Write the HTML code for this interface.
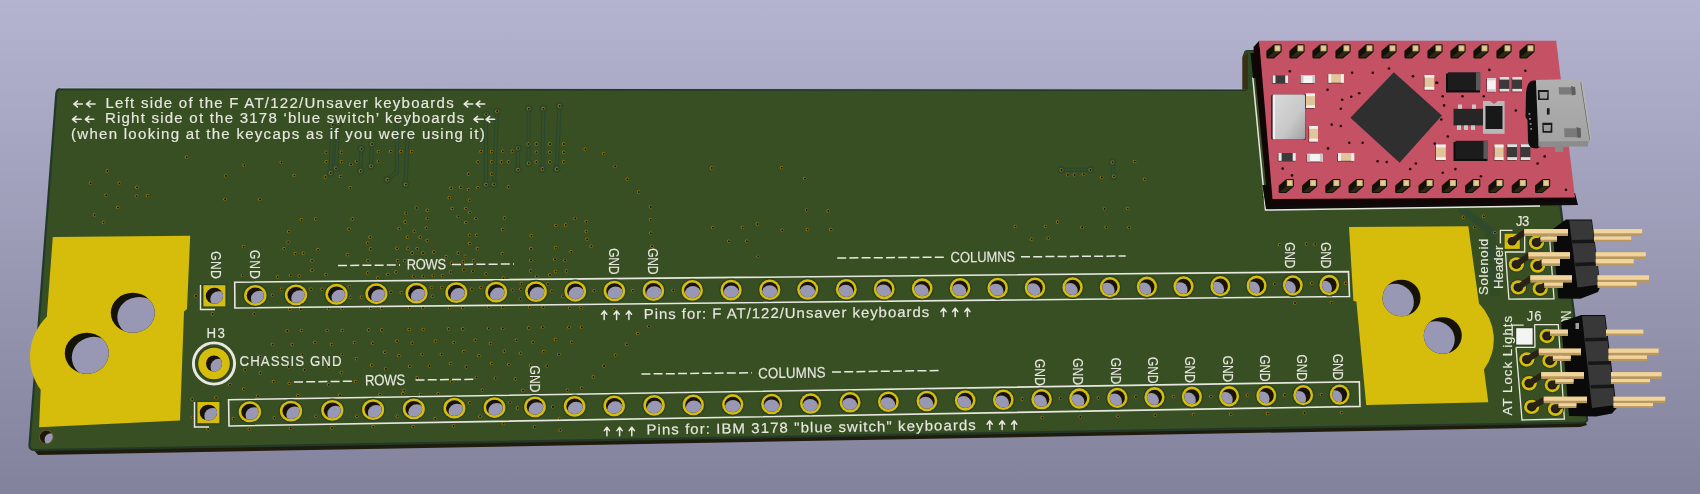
<!DOCTYPE html><html><head><meta charset="utf-8"><style>
html,body{margin:0;padding:0;width:1700px;height:494px;overflow:hidden;background:#9a9ab6}
svg{display:block;will-change:transform}
text{font-family:"Liberation Sans",sans-serif;fill:#e8e8e0;stroke:#e8e8e0;stroke-width:0.15px}
</style></head><body>
<svg width="1700" height="494" viewBox="0 0 1700 494">
<defs>
<linearGradient id="bg" x1="0" y1="0" x2="0" y2="1">
<stop offset="0" stop-color="#b4b4d0"/><stop offset="1" stop-color="#82829c"/>
</linearGradient>
<linearGradient id="usb" x1="0" y1="0" x2="0" y2="1">
<stop offset="0" stop-color="#b0b0b0"/><stop offset="1" stop-color="#a2a2a2"/>
</linearGradient>
<linearGradient id="xtal" x1="0" y1="0" x2="1" y2="1">
<stop offset="0" stop-color="#dadada"/><stop offset="0.6" stop-color="#c8c8c8"/><stop offset="1" stop-color="#a0a0a0"/>
</linearGradient>
</defs>
<rect width="1700" height="494" fill="url(#bg)"/>

<path d="M33,449 L1585,421 L1587,425 L1580,427 L38,455 Z" fill="#1f1c0c"/>
<path d="M61,89 L1245,90 L1245,53 Q1245,51 1248,51 L1541,50 L1560,202 L1587,418 Q1588,422 1583,422.5 L35,450 Q29,450 29.5,445 L56.3,93.5 Q56.8,89 61,89 Z" fill="#384f23" stroke="#22392a" stroke-width="2.2"/>
<path d="M60,88 L1245,89" stroke="#bdbdd9" stroke-width="1" opacity="0.8"/>
<path d="M52.8,237 L190.2,235.7 L187,309 L184,311.5 L180,420.6 L39.1,427.2 L40.7,389.8 A56,56 0 0 1 46.8,316.8 Z" fill="#d6bd0c"/>
<path d="M1349,227 L1468.3,226.2 L1479,303.6 A51,51 0 0 1 1484,369.6 L1488.3,402.3 L1366.2,404.9 L1356.4,301.5 L1353.4,301 Z" fill="#d6bd0c"/>
<clipPath id="h1"><ellipse cx="132.80" cy="312.80" rx="22.00" ry="20.00"/></clipPath>
<ellipse cx="132.80" cy="312.80" rx="22.00" ry="20.00" fill="#15120a"/>
<ellipse cx="139.32" cy="316.93" rx="22.00" ry="20.00" fill="#9898b4" clip-path="url(#h1)"/>
<clipPath id="h2"><ellipse cx="86.80" cy="353.20" rx="22.00" ry="20.50"/></clipPath>
<ellipse cx="86.80" cy="353.20" rx="22.00" ry="20.50" fill="#15120a"/>
<ellipse cx="93.79" cy="357.32" rx="22.00" ry="20.50" fill="#9898b4" clip-path="url(#h2)"/>
<clipPath id="h3"><ellipse cx="1401.50" cy="298.00" rx="19.00" ry="18.30"/></clipPath>
<ellipse cx="1401.50" cy="298.00" rx="19.00" ry="18.30" fill="#15120a"/>
<ellipse cx="1394.88" cy="302.12" rx="19.00" ry="18.30" fill="#9898b4" clip-path="url(#h3)"/>
<clipPath id="h4"><ellipse cx="1442.80" cy="335.50" rx="19.00" ry="18.30"/></clipPath>
<ellipse cx="1442.80" cy="335.50" rx="19.00" ry="18.30" fill="#15120a"/>
<ellipse cx="1435.75" cy="339.62" rx="19.00" ry="18.30" fill="#9898b4" clip-path="url(#h4)"/>
<circle cx="46.3" cy="437" r="7.2" fill="#7a5a20"/>
<clipPath id="h5"><ellipse cx="46.30" cy="437.00" rx="6.50" ry="6.50"/></clipPath>
<ellipse cx="46.30" cy="437.00" rx="6.50" ry="6.50" fill="#1d170a"/>
<ellipse cx="51.04" cy="439.64" rx="6.50" ry="6.50" fill="#9898b4" clip-path="url(#h5)"/>
<path d="M332.5,124.8 L330.6,172.9" fill="none" stroke="#2a4630" stroke-width="4.2" stroke-linecap="round" stroke-linejoin="round"/>
<path d="M332.5,124.8 L330.6,172.9" fill="none" stroke="#384f23" stroke-width="2" stroke-linecap="round" stroke-linejoin="round"/>
<circle cx="332.5" cy="124.8" r="3.2" fill="#384f23" stroke="#2a4630" stroke-width="1.1"/><circle cx="332.5" cy="124.8" r="1.65" fill="#9a8018"/><circle cx="332.7" cy="124.89999999999999" r="1.05" fill="#17130a"/>
<circle cx="330.6" cy="172.9" r="3.2" fill="#384f23" stroke="#2a4630" stroke-width="1.1"/><circle cx="330.6" cy="172.9" r="1.65" fill="#9a8018"/><circle cx="330.8" cy="173.0" r="1.05" fill="#17130a"/>
<path d="M338.3,122.9 L335.8,168.1" fill="none" stroke="#2a4630" stroke-width="4.2" stroke-linecap="round" stroke-linejoin="round"/>
<path d="M338.3,122.9 L335.8,168.1" fill="none" stroke="#384f23" stroke-width="2" stroke-linecap="round" stroke-linejoin="round"/>
<circle cx="338.3" cy="122.9" r="3.2" fill="#384f23" stroke="#2a4630" stroke-width="1.1"/><circle cx="338.3" cy="122.9" r="1.65" fill="#9a8018"/><circle cx="338.5" cy="123.0" r="1.05" fill="#17130a"/>
<circle cx="335.8" cy="168.1" r="3.2" fill="#384f23" stroke="#2a4630" stroke-width="1.1"/><circle cx="335.8" cy="168.1" r="1.65" fill="#9a8018"/><circle cx="336.0" cy="168.2" r="1.05" fill="#17130a"/>
<path d="M361.3,148.8 L360.4,171" fill="none" stroke="#2a4630" stroke-width="4.2" stroke-linecap="round" stroke-linejoin="round"/>
<path d="M361.3,148.8 L360.4,171" fill="none" stroke="#384f23" stroke-width="2" stroke-linecap="round" stroke-linejoin="round"/>
<circle cx="361.3" cy="148.8" r="3.2" fill="#384f23" stroke="#2a4630" stroke-width="1.1"/><circle cx="361.3" cy="148.8" r="1.65" fill="#9a8018"/><circle cx="361.5" cy="148.9" r="1.05" fill="#17130a"/>
<circle cx="360.4" cy="171" r="3.2" fill="#384f23" stroke="#2a4630" stroke-width="1.1"/><circle cx="360.4" cy="171" r="1.65" fill="#9a8018"/><circle cx="360.59999999999997" cy="171.1" r="1.05" fill="#17130a"/>
<path d="M371.9,144 L371,166.2" fill="none" stroke="#2a4630" stroke-width="4.2" stroke-linecap="round" stroke-linejoin="round"/>
<path d="M371.9,144 L371,166.2" fill="none" stroke="#384f23" stroke-width="2" stroke-linecap="round" stroke-linejoin="round"/>
<circle cx="371.9" cy="144" r="3.2" fill="#384f23" stroke="#2a4630" stroke-width="1.1"/><circle cx="371.9" cy="144" r="1.65" fill="#9a8018"/><circle cx="372.09999999999997" cy="144.1" r="1.05" fill="#17130a"/>
<circle cx="371" cy="166.2" r="3.2" fill="#384f23" stroke="#2a4630" stroke-width="1.1"/><circle cx="371" cy="166.2" r="1.65" fill="#9a8018"/><circle cx="371.2" cy="166.29999999999998" r="1.05" fill="#17130a"/>
<path d="M396.9,120 L396.9,172 L387.3,179.6" fill="none" stroke="#2a4630" stroke-width="4.2" stroke-linecap="round" stroke-linejoin="round"/>
<path d="M396.9,120 L396.9,172 L387.3,179.6" fill="none" stroke="#384f23" stroke-width="2" stroke-linecap="round" stroke-linejoin="round"/>
<circle cx="396.9" cy="120" r="3.2" fill="#384f23" stroke="#2a4630" stroke-width="1.1"/><circle cx="396.9" cy="120" r="1.65" fill="#9a8018"/><circle cx="397.09999999999997" cy="120.1" r="1.05" fill="#17130a"/>
<circle cx="387.3" cy="179.6" r="3.2" fill="#384f23" stroke="#2a4630" stroke-width="1.1"/><circle cx="387.3" cy="179.6" r="1.65" fill="#9a8018"/><circle cx="387.5" cy="179.7" r="1.05" fill="#17130a"/>
<path d="M408.5,116.2 L405.6,184.4" fill="none" stroke="#2a4630" stroke-width="4.2" stroke-linecap="round" stroke-linejoin="round"/>
<path d="M408.5,116.2 L405.6,184.4" fill="none" stroke="#384f23" stroke-width="2" stroke-linecap="round" stroke-linejoin="round"/>
<circle cx="408.5" cy="116.2" r="3.2" fill="#384f23" stroke="#2a4630" stroke-width="1.1"/><circle cx="408.5" cy="116.2" r="1.65" fill="#9a8018"/><circle cx="408.7" cy="116.3" r="1.05" fill="#17130a"/>
<circle cx="405.6" cy="184.4" r="3.2" fill="#384f23" stroke="#2a4630" stroke-width="1.1"/><circle cx="405.6" cy="184.4" r="1.65" fill="#9a8018"/><circle cx="405.8" cy="184.5" r="1.05" fill="#17130a"/>
<path d="M486,114.3 L486,184.7" fill="none" stroke="#2a4630" stroke-width="4.2" stroke-linecap="round" stroke-linejoin="round"/>
<path d="M486,114.3 L486,184.7" fill="none" stroke="#384f23" stroke-width="2" stroke-linecap="round" stroke-linejoin="round"/>
<circle cx="486" cy="114.3" r="3.2" fill="#384f23" stroke="#2a4630" stroke-width="1.1"/><circle cx="486" cy="114.3" r="1.65" fill="#9a8018"/><circle cx="486.2" cy="114.39999999999999" r="1.05" fill="#17130a"/>
<circle cx="486" cy="184.7" r="3.2" fill="#384f23" stroke="#2a4630" stroke-width="1.1"/><circle cx="486" cy="184.7" r="1.65" fill="#9a8018"/><circle cx="486.2" cy="184.79999999999998" r="1.05" fill="#17130a"/>
<path d="M497,111.3 L494,184.3" fill="none" stroke="#2a4630" stroke-width="4.2" stroke-linecap="round" stroke-linejoin="round"/>
<path d="M497,111.3 L494,184.3" fill="none" stroke="#384f23" stroke-width="2" stroke-linecap="round" stroke-linejoin="round"/>
<circle cx="497" cy="111.3" r="3.2" fill="#384f23" stroke="#2a4630" stroke-width="1.1"/><circle cx="497" cy="111.3" r="1.65" fill="#9a8018"/><circle cx="497.2" cy="111.39999999999999" r="1.05" fill="#17130a"/>
<circle cx="494" cy="184.3" r="3.2" fill="#384f23" stroke="#2a4630" stroke-width="1.1"/><circle cx="494" cy="184.3" r="1.65" fill="#9a8018"/><circle cx="494.2" cy="184.4" r="1.05" fill="#17130a"/>
<path d="M518,148.3 L518,169.6" fill="none" stroke="#2a4630" stroke-width="4.2" stroke-linecap="round" stroke-linejoin="round"/>
<path d="M518,148.3 L518,169.6" fill="none" stroke="#384f23" stroke-width="2" stroke-linecap="round" stroke-linejoin="round"/>
<circle cx="518" cy="148.3" r="3.2" fill="#384f23" stroke="#2a4630" stroke-width="1.1"/><circle cx="518" cy="148.3" r="1.65" fill="#9a8018"/><circle cx="518.2" cy="148.4" r="1.05" fill="#17130a"/>
<circle cx="518" cy="169.6" r="3.2" fill="#384f23" stroke="#2a4630" stroke-width="1.1"/><circle cx="518" cy="169.6" r="1.65" fill="#9a8018"/><circle cx="518.2" cy="169.7" r="1.05" fill="#17130a"/>
<path d="M528.5,108.6 L528.5,163.2" fill="none" stroke="#2a4630" stroke-width="4.2" stroke-linecap="round" stroke-linejoin="round"/>
<path d="M528.5,108.6 L528.5,163.2" fill="none" stroke="#384f23" stroke-width="2" stroke-linecap="round" stroke-linejoin="round"/>
<circle cx="528.5" cy="108.6" r="3.2" fill="#384f23" stroke="#2a4630" stroke-width="1.1"/><circle cx="528.5" cy="108.6" r="1.65" fill="#9a8018"/><circle cx="528.7" cy="108.69999999999999" r="1.05" fill="#17130a"/>
<circle cx="528.5" cy="163.2" r="3.2" fill="#384f23" stroke="#2a4630" stroke-width="1.1"/><circle cx="528.5" cy="163.2" r="1.65" fill="#9a8018"/><circle cx="528.7" cy="163.29999999999998" r="1.05" fill="#17130a"/>
<path d="M543.3,108.6 L542.3,169" fill="none" stroke="#2a4630" stroke-width="4.2" stroke-linecap="round" stroke-linejoin="round"/>
<path d="M543.3,108.6 L542.3,169" fill="none" stroke="#384f23" stroke-width="2" stroke-linecap="round" stroke-linejoin="round"/>
<circle cx="543.3" cy="108.6" r="3.2" fill="#384f23" stroke="#2a4630" stroke-width="1.1"/><circle cx="543.3" cy="108.6" r="1.65" fill="#9a8018"/><circle cx="543.5" cy="108.69999999999999" r="1.05" fill="#17130a"/>
<circle cx="542.3" cy="169" r="3.2" fill="#384f23" stroke="#2a4630" stroke-width="1.1"/><circle cx="542.3" cy="169" r="1.65" fill="#9a8018"/><circle cx="542.5" cy="169.1" r="1.05" fill="#17130a"/>
<path d="M559.5,106 L556.7,169" fill="none" stroke="#2a4630" stroke-width="4.2" stroke-linecap="round" stroke-linejoin="round"/>
<path d="M559.5,106 L556.7,169" fill="none" stroke="#384f23" stroke-width="2" stroke-linecap="round" stroke-linejoin="round"/>
<circle cx="559.5" cy="106" r="3.2" fill="#384f23" stroke="#2a4630" stroke-width="1.1"/><circle cx="559.5" cy="106" r="1.65" fill="#9a8018"/><circle cx="559.7" cy="106.1" r="1.05" fill="#17130a"/>
<circle cx="556.7" cy="169" r="3.2" fill="#384f23" stroke="#2a4630" stroke-width="1.1"/><circle cx="556.7" cy="169" r="1.65" fill="#9a8018"/><circle cx="556.9000000000001" cy="169.1" r="1.05" fill="#17130a"/>
<path d="M1061.2,169.8 L1090.3,169.8" fill="none" stroke="#2a4630" stroke-width="4.2" stroke-linecap="round" stroke-linejoin="round"/>
<path d="M1061.2,169.8 L1090.3,169.8" fill="none" stroke="#384f23" stroke-width="2" stroke-linecap="round" stroke-linejoin="round"/>
<circle cx="1061.2" cy="169.8" r="3.2" fill="#384f23" stroke="#2a4630" stroke-width="1.1"/><circle cx="1061.2" cy="169.8" r="1.65" fill="#9a8018"/><circle cx="1061.4" cy="169.9" r="1.05" fill="#17130a"/>
<circle cx="1090.3" cy="169.8" r="3.2" fill="#384f23" stroke="#2a4630" stroke-width="1.1"/><circle cx="1090.3" cy="169.8" r="1.65" fill="#9a8018"/><circle cx="1090.5" cy="169.9" r="1.05" fill="#17130a"/>
<path d="M1112.3,162.2 L1113.8,176.2" fill="none" stroke="#2a4630" stroke-width="4.2" stroke-linecap="round" stroke-linejoin="round"/>
<path d="M1112.3,162.2 L1113.8,176.2" fill="none" stroke="#384f23" stroke-width="2" stroke-linecap="round" stroke-linejoin="round"/>
<circle cx="1112.3" cy="162.2" r="3.2" fill="#384f23" stroke="#2a4630" stroke-width="1.1"/><circle cx="1112.3" cy="162.2" r="1.65" fill="#9a8018"/><circle cx="1112.5" cy="162.29999999999998" r="1.05" fill="#17130a"/>
<circle cx="1113.8" cy="176.2" r="3.2" fill="#384f23" stroke="#2a4630" stroke-width="1.1"/><circle cx="1113.8" cy="176.2" r="1.65" fill="#9a8018"/><circle cx="1114.0" cy="176.29999999999998" r="1.05" fill="#17130a"/>
<path d="M1458.0,209.5 L1486.0,230 L1491.5,296" fill="none" stroke="#2c4832" stroke-width="2.6"/><path d="M1458.0,209.5 L1486.0,230 L1491.5,296" fill="none" stroke="#384f23" stroke-width="0.9"/>
<path d="M1461.6,209.5 L1489.6,230 L1495.1,296" fill="none" stroke="#2c4832" stroke-width="2.6"/><path d="M1461.6,209.5 L1489.6,230 L1495.1,296" fill="none" stroke="#384f23" stroke-width="0.9"/>
<path d="M1465.2,209.5 L1493.2,230 L1498.7,296" fill="none" stroke="#2c4832" stroke-width="2.6"/><path d="M1465.2,209.5 L1493.2,230 L1498.7,296" fill="none" stroke="#384f23" stroke-width="0.9"/>
<circle cx="186.5" cy="157.2" r="1.65" fill="#9a8018"/><circle cx="186.7" cy="157.3" r="1.05" fill="#17130a"/>
<circle cx="107.2" cy="171.0" r="1.65" fill="#9a8018"/><circle cx="107.4" cy="171.1" r="1.05" fill="#17130a"/>
<circle cx="90.4" cy="183.1" r="1.65" fill="#9a8018"/><circle cx="90.6" cy="183.2" r="1.05" fill="#17130a"/>
<circle cx="119.3" cy="183.1" r="1.65" fill="#9a8018"/><circle cx="119.5" cy="183.2" r="1.05" fill="#17130a"/>
<circle cx="136.9" cy="187.2" r="1.65" fill="#9a8018"/><circle cx="137.1" cy="187.3" r="1.05" fill="#17130a"/>
<circle cx="106.0" cy="195.1" r="1.65" fill="#9a8018"/><circle cx="106.2" cy="195.2" r="1.05" fill="#17130a"/>
<circle cx="136.3" cy="196.1" r="1.65" fill="#9a8018"/><circle cx="136.5" cy="196.2" r="1.05" fill="#17130a"/>
<circle cx="147.4" cy="195.7" r="1.65" fill="#9a8018"/><circle cx="147.6" cy="195.8" r="1.05" fill="#17130a"/>
<circle cx="117.7" cy="207.4" r="1.65" fill="#9a8018"/><circle cx="117.9" cy="207.5" r="1.05" fill="#17130a"/>
<circle cx="94.4" cy="214.9" r="1.65" fill="#9a8018"/><circle cx="94.6" cy="215.0" r="1.05" fill="#17130a"/>
<circle cx="103.5" cy="222.4" r="1.65" fill="#9a8018"/><circle cx="103.7" cy="222.5" r="1.05" fill="#17130a"/>
<circle cx="244.2" cy="165.3" r="1.65" fill="#9a8018"/><circle cx="244.4" cy="165.4" r="1.05" fill="#17130a"/>
<circle cx="225.6" cy="175.8" r="1.65" fill="#9a8018"/><circle cx="225.8" cy="175.9" r="1.05" fill="#17130a"/>
<circle cx="281.3" cy="162.3" r="1.65" fill="#9a8018"/><circle cx="281.5" cy="162.4" r="1.05" fill="#17130a"/>
<circle cx="294.2" cy="175.4" r="1.65" fill="#9a8018"/><circle cx="294.4" cy="175.5" r="1.05" fill="#17130a"/>
<circle cx="225.0" cy="199.3" r="1.65" fill="#9a8018"/><circle cx="225.2" cy="199.4" r="1.05" fill="#17130a"/>
<circle cx="259.8" cy="199.3" r="1.65" fill="#9a8018"/><circle cx="260.0" cy="199.4" r="1.05" fill="#17130a"/>
<circle cx="301.3" cy="219.6" r="1.65" fill="#9a8018"/><circle cx="301.5" cy="219.7" r="1.05" fill="#17130a"/>
<circle cx="315.5" cy="218.9" r="1.65" fill="#9a8018"/><circle cx="315.7" cy="219.0" r="1.05" fill="#17130a"/>
<circle cx="288.7" cy="231.5" r="1.65" fill="#9a8018"/><circle cx="288.9" cy="231.6" r="1.05" fill="#17130a"/>
<circle cx="352.1" cy="218.9" r="1.65" fill="#9a8018"/><circle cx="352.3" cy="219.0" r="1.05" fill="#17130a"/>
<circle cx="348.9" cy="229.1" r="1.65" fill="#9a8018"/><circle cx="349.1" cy="229.2" r="1.05" fill="#17130a"/>
<circle cx="370.1" cy="237.2" r="1.65" fill="#9a8018"/><circle cx="370.3" cy="237.3" r="1.05" fill="#17130a"/>
<circle cx="326.2" cy="152.1" r="1.65" fill="#9a8018"/><circle cx="326.4" cy="152.2" r="1.05" fill="#17130a"/>
<circle cx="326.2" cy="161.7" r="1.65" fill="#9a8018"/><circle cx="326.4" cy="161.8" r="1.05" fill="#17130a"/>
<circle cx="341.4" cy="152.1" r="1.65" fill="#9a8018"/><circle cx="341.6" cy="152.2" r="1.05" fill="#17130a"/>
<circle cx="341.4" cy="161.7" r="1.65" fill="#9a8018"/><circle cx="341.6" cy="161.8" r="1.05" fill="#17130a"/>
<circle cx="325.2" cy="177.0" r="1.65" fill="#9a8018"/><circle cx="325.4" cy="177.1" r="1.05" fill="#17130a"/>
<circle cx="340.4" cy="176.4" r="1.65" fill="#9a8018"/><circle cx="340.6" cy="176.5" r="1.05" fill="#17130a"/>
<circle cx="350.9" cy="164.3" r="1.65" fill="#9a8018"/><circle cx="351.1" cy="164.4" r="1.05" fill="#17130a"/>
<circle cx="356.6" cy="161.3" r="1.65" fill="#9a8018"/><circle cx="356.8" cy="161.4" r="1.05" fill="#17130a"/>
<circle cx="378.4" cy="151.7" r="1.65" fill="#9a8018"/><circle cx="378.6" cy="151.8" r="1.05" fill="#17130a"/>
<circle cx="378.4" cy="161.3" r="1.65" fill="#9a8018"/><circle cx="378.6" cy="161.4" r="1.05" fill="#17130a"/>
<circle cx="390.6" cy="151.5" r="1.65" fill="#9a8018"/><circle cx="390.8" cy="151.6" r="1.05" fill="#17130a"/>
<circle cx="350.1" cy="187.6" r="1.65" fill="#9a8018"/><circle cx="350.3" cy="187.7" r="1.05" fill="#17130a"/>
<circle cx="399.1" cy="228.5" r="1.65" fill="#9a8018"/><circle cx="399.3" cy="228.6" r="1.05" fill="#17130a"/>
<circle cx="411.5" cy="151.5" r="1.65" fill="#9a8018"/><circle cx="411.7" cy="151.6" r="1.05" fill="#17130a"/>
<circle cx="401.0" cy="151.5" r="1.65" fill="#9a8018"/><circle cx="401.2" cy="151.6" r="1.05" fill="#17130a"/>
<circle cx="481.0" cy="151.5" r="1.65" fill="#9a8018"/><circle cx="481.2" cy="151.6" r="1.05" fill="#17130a"/>
<circle cx="491.5" cy="151.5" r="1.65" fill="#9a8018"/><circle cx="491.7" cy="151.6" r="1.05" fill="#17130a"/>
<circle cx="502.6" cy="151.1" r="1.65" fill="#9a8018"/><circle cx="502.8" cy="151.2" r="1.05" fill="#17130a"/>
<circle cx="512.3" cy="151.1" r="1.65" fill="#9a8018"/><circle cx="512.5" cy="151.2" r="1.05" fill="#17130a"/>
<circle cx="528.1" cy="144.0" r="1.65" fill="#9a8018"/><circle cx="528.3" cy="144.1" r="1.05" fill="#17130a"/>
<circle cx="536.2" cy="144.0" r="1.65" fill="#9a8018"/><circle cx="536.4" cy="144.1" r="1.05" fill="#17130a"/>
<circle cx="549.8" cy="144.0" r="1.65" fill="#9a8018"/><circle cx="550.0" cy="144.1" r="1.05" fill="#17130a"/>
<circle cx="563.6" cy="144.0" r="1.65" fill="#9a8018"/><circle cx="563.8" cy="144.1" r="1.05" fill="#17130a"/>
<circle cx="536.2" cy="152.1" r="1.65" fill="#9a8018"/><circle cx="536.4" cy="152.2" r="1.05" fill="#17130a"/>
<circle cx="549.8" cy="152.1" r="1.65" fill="#9a8018"/><circle cx="550.0" cy="152.2" r="1.05" fill="#17130a"/>
<circle cx="563.6" cy="152.1" r="1.65" fill="#9a8018"/><circle cx="563.8" cy="152.2" r="1.05" fill="#17130a"/>
<circle cx="477.9" cy="161.9" r="1.65" fill="#9a8018"/><circle cx="478.1" cy="162.0" r="1.05" fill="#17130a"/>
<circle cx="491.5" cy="161.9" r="1.65" fill="#9a8018"/><circle cx="491.7" cy="162.0" r="1.05" fill="#17130a"/>
<circle cx="501.2" cy="161.9" r="1.65" fill="#9a8018"/><circle cx="501.4" cy="162.0" r="1.05" fill="#17130a"/>
<circle cx="508.3" cy="161.9" r="1.65" fill="#9a8018"/><circle cx="508.5" cy="162.0" r="1.05" fill="#17130a"/>
<circle cx="536.2" cy="161.9" r="1.65" fill="#9a8018"/><circle cx="536.4" cy="162.0" r="1.05" fill="#17130a"/>
<circle cx="549.8" cy="161.9" r="1.65" fill="#9a8018"/><circle cx="550.0" cy="162.0" r="1.05" fill="#17130a"/>
<circle cx="563.6" cy="161.9" r="1.65" fill="#9a8018"/><circle cx="563.8" cy="162.0" r="1.05" fill="#17130a"/>
<circle cx="491.5" cy="174.0" r="1.65" fill="#9a8018"/><circle cx="491.7" cy="174.1" r="1.05" fill="#17130a"/>
<circle cx="468.4" cy="174.0" r="1.65" fill="#9a8018"/><circle cx="468.6" cy="174.1" r="1.05" fill="#17130a"/>
<circle cx="585.2" cy="149.1" r="1.65" fill="#9a8018"/><circle cx="585.4" cy="149.2" r="1.05" fill="#17130a"/>
<circle cx="603.4" cy="153.6" r="1.65" fill="#9a8018"/><circle cx="603.6" cy="153.7" r="1.05" fill="#17130a"/>
<circle cx="615.0" cy="166.3" r="1.65" fill="#9a8018"/><circle cx="615.2" cy="166.4" r="1.05" fill="#17130a"/>
<circle cx="627.1" cy="179.1" r="1.65" fill="#9a8018"/><circle cx="627.3" cy="179.2" r="1.05" fill="#17130a"/>
<circle cx="638.5" cy="192.0" r="1.65" fill="#9a8018"/><circle cx="638.7" cy="192.1" r="1.05" fill="#17130a"/>
<circle cx="650.6" cy="206.8" r="1.65" fill="#9a8018"/><circle cx="650.8" cy="206.9" r="1.05" fill="#17130a"/>
<circle cx="650.6" cy="219.6" r="1.65" fill="#9a8018"/><circle cx="650.8" cy="219.7" r="1.05" fill="#17130a"/>
<circle cx="650.6" cy="233.1" r="1.65" fill="#9a8018"/><circle cx="650.8" cy="233.2" r="1.05" fill="#17130a"/>
<circle cx="711.7" cy="167.9" r="1.65" fill="#9a8018"/><circle cx="711.9" cy="168.0" r="1.05" fill="#17130a"/>
<circle cx="712.8" cy="227.7" r="1.65" fill="#9a8018"/><circle cx="713.0" cy="227.8" r="1.05" fill="#17130a"/>
<circle cx="451.0" cy="188.2" r="1.65" fill="#9a8018"/><circle cx="451.2" cy="188.3" r="1.05" fill="#17130a"/>
<circle cx="460.7" cy="187.2" r="1.65" fill="#9a8018"/><circle cx="460.9" cy="187.3" r="1.05" fill="#17130a"/>
<circle cx="468.4" cy="189.6" r="1.65" fill="#9a8018"/><circle cx="468.6" cy="189.7" r="1.05" fill="#17130a"/>
<circle cx="477.9" cy="187.6" r="1.65" fill="#9a8018"/><circle cx="478.1" cy="187.7" r="1.05" fill="#17130a"/>
<circle cx="508.3" cy="187.0" r="1.65" fill="#9a8018"/><circle cx="508.5" cy="187.1" r="1.05" fill="#17130a"/>
<circle cx="449.2" cy="197.7" r="1.65" fill="#9a8018"/><circle cx="449.4" cy="197.8" r="1.05" fill="#17130a"/>
<circle cx="469.4" cy="200.1" r="1.65" fill="#9a8018"/><circle cx="469.6" cy="200.2" r="1.05" fill="#17130a"/>
<circle cx="416.2" cy="207.8" r="1.65" fill="#9a8018"/><circle cx="416.4" cy="207.9" r="1.05" fill="#17130a"/>
<circle cx="427.3" cy="210.2" r="1.65" fill="#9a8018"/><circle cx="427.5" cy="210.3" r="1.05" fill="#17130a"/>
<circle cx="452.2" cy="208.4" r="1.65" fill="#9a8018"/><circle cx="452.4" cy="208.5" r="1.05" fill="#17130a"/>
<circle cx="465.8" cy="208.4" r="1.65" fill="#9a8018"/><circle cx="466.0" cy="208.5" r="1.05" fill="#17130a"/>
<circle cx="469.8" cy="212.5" r="1.65" fill="#9a8018"/><circle cx="470.0" cy="212.6" r="1.05" fill="#17130a"/>
<circle cx="406.1" cy="213.3" r="1.65" fill="#9a8018"/><circle cx="406.3" cy="213.4" r="1.05" fill="#17130a"/>
<circle cx="427.3" cy="218.3" r="1.65" fill="#9a8018"/><circle cx="427.5" cy="218.4" r="1.05" fill="#17130a"/>
<circle cx="458.3" cy="216.3" r="1.65" fill="#9a8018"/><circle cx="458.5" cy="216.4" r="1.05" fill="#17130a"/>
<circle cx="475.9" cy="218.3" r="1.65" fill="#9a8018"/><circle cx="476.1" cy="218.4" r="1.05" fill="#17130a"/>
<circle cx="504.3" cy="217.9" r="1.65" fill="#9a8018"/><circle cx="504.5" cy="218.0" r="1.05" fill="#17130a"/>
<circle cx="405.1" cy="222.0" r="1.65" fill="#9a8018"/><circle cx="405.3" cy="222.1" r="1.05" fill="#17130a"/>
<circle cx="465.8" cy="222.4" r="1.65" fill="#9a8018"/><circle cx="466.0" cy="222.5" r="1.05" fill="#17130a"/>
<circle cx="426.3" cy="228.1" r="1.65" fill="#9a8018"/><circle cx="426.5" cy="228.2" r="1.05" fill="#17130a"/>
<circle cx="502.6" cy="229.5" r="1.65" fill="#9a8018"/><circle cx="502.8" cy="229.6" r="1.05" fill="#17130a"/>
<circle cx="414.2" cy="231.1" r="1.65" fill="#9a8018"/><circle cx="414.4" cy="231.2" r="1.05" fill="#17130a"/>
<circle cx="407.5" cy="237.2" r="1.65" fill="#9a8018"/><circle cx="407.7" cy="237.3" r="1.05" fill="#17130a"/>
<circle cx="420.2" cy="237.2" r="1.65" fill="#9a8018"/><circle cx="420.4" cy="237.3" r="1.05" fill="#17130a"/>
<circle cx="469.4" cy="235.1" r="1.65" fill="#9a8018"/><circle cx="469.6" cy="235.2" r="1.05" fill="#17130a"/>
<circle cx="476.5" cy="235.1" r="1.65" fill="#9a8018"/><circle cx="476.7" cy="235.2" r="1.05" fill="#17130a"/>
<circle cx="531.2" cy="235.7" r="1.65" fill="#9a8018"/><circle cx="531.4" cy="235.8" r="1.05" fill="#17130a"/>
<circle cx="555.9" cy="225.4" r="1.65" fill="#9a8018"/><circle cx="556.1" cy="225.5" r="1.05" fill="#17130a"/>
<circle cx="565.6" cy="225.0" r="1.65" fill="#9a8018"/><circle cx="565.8" cy="225.1" r="1.05" fill="#17130a"/>
<circle cx="575.1" cy="218.3" r="1.65" fill="#9a8018"/><circle cx="575.3" cy="218.4" r="1.05" fill="#17130a"/>
<circle cx="586.2" cy="221.6" r="1.65" fill="#9a8018"/><circle cx="586.4" cy="221.7" r="1.05" fill="#17130a"/>
<circle cx="586.2" cy="231.5" r="1.65" fill="#9a8018"/><circle cx="586.4" cy="231.6" r="1.05" fill="#17130a"/>
<circle cx="781.5" cy="167.7" r="1.65" fill="#9a8018"/><circle cx="781.7" cy="167.8" r="1.05" fill="#17130a"/>
<circle cx="804.8" cy="178.5" r="1.65" fill="#9a8018"/><circle cx="805.0" cy="178.6" r="1.05" fill="#17130a"/>
<circle cx="806.4" cy="209.8" r="1.65" fill="#9a8018"/><circle cx="806.6" cy="209.9" r="1.05" fill="#17130a"/>
<circle cx="828.1" cy="210.9" r="1.65" fill="#9a8018"/><circle cx="828.3" cy="211.0" r="1.05" fill="#17130a"/>
<circle cx="742.4" cy="227.4" r="1.65" fill="#9a8018"/><circle cx="742.6" cy="227.5" r="1.05" fill="#17130a"/>
<circle cx="757.2" cy="224.0" r="1.65" fill="#9a8018"/><circle cx="757.4" cy="224.1" r="1.05" fill="#17130a"/>
<circle cx="782.1" cy="230.1" r="1.65" fill="#9a8018"/><circle cx="782.3" cy="230.2" r="1.05" fill="#17130a"/>
<circle cx="807.4" cy="229.5" r="1.65" fill="#9a8018"/><circle cx="807.6" cy="229.6" r="1.05" fill="#17130a"/>
<circle cx="830.7" cy="229.5" r="1.65" fill="#9a8018"/><circle cx="830.9" cy="229.6" r="1.05" fill="#17130a"/>
<circle cx="1015.3" cy="226.4" r="1.65" fill="#9a8018"/><circle cx="1015.5" cy="226.5" r="1.05" fill="#17130a"/>
<circle cx="1045.3" cy="226.4" r="1.65" fill="#9a8018"/><circle cx="1045.5" cy="226.5" r="1.05" fill="#17130a"/>
<circle cx="1057.4" cy="222.0" r="1.65" fill="#9a8018"/><circle cx="1057.6" cy="222.1" r="1.05" fill="#17130a"/>
<circle cx="1031.5" cy="239.2" r="1.65" fill="#9a8018"/><circle cx="1031.7" cy="239.3" r="1.05" fill="#17130a"/>
<circle cx="1048.1" cy="238.2" r="1.65" fill="#9a8018"/><circle cx="1048.3" cy="238.3" r="1.05" fill="#17130a"/>
<circle cx="1067.5" cy="174.8" r="1.65" fill="#9a8018"/><circle cx="1067.7" cy="174.9" r="1.05" fill="#17130a"/>
<circle cx="1074.4" cy="174.8" r="1.65" fill="#9a8018"/><circle cx="1074.6" cy="174.9" r="1.05" fill="#17130a"/>
<circle cx="1083.5" cy="174.3" r="1.65" fill="#9a8018"/><circle cx="1083.7" cy="174.4" r="1.05" fill="#17130a"/>
<circle cx="1101.7" cy="177.3" r="1.65" fill="#9a8018"/><circle cx="1101.9" cy="177.4" r="1.05" fill="#17130a"/>
<circle cx="1134.6" cy="161.4" r="1.65" fill="#9a8018"/><circle cx="1134.8" cy="161.5" r="1.05" fill="#17130a"/>
<circle cx="1144.5" cy="179.2" r="1.65" fill="#9a8018"/><circle cx="1144.7" cy="179.3" r="1.05" fill="#17130a"/>
<circle cx="1104.4" cy="208.8" r="1.65" fill="#9a8018"/><circle cx="1104.6" cy="208.9" r="1.05" fill="#17130a"/>
<circle cx="1127.4" cy="208.4" r="1.65" fill="#9a8018"/><circle cx="1127.6" cy="208.5" r="1.05" fill="#17130a"/>
<circle cx="1082.0" cy="227.3" r="1.65" fill="#9a8018"/><circle cx="1082.2" cy="227.4" r="1.05" fill="#17130a"/>
<circle cx="1106.2" cy="227.3" r="1.65" fill="#9a8018"/><circle cx="1106.4" cy="227.4" r="1.05" fill="#17130a"/>
<circle cx="1129.0" cy="227.3" r="1.65" fill="#9a8018"/><circle cx="1129.2" cy="227.4" r="1.05" fill="#17130a"/>
<circle cx="289.6" cy="309.1" r="1.65" fill="#9a8018"/><circle cx="289.8" cy="309.2" r="1.05" fill="#17130a"/>
<circle cx="300.7" cy="309.1" r="1.65" fill="#9a8018"/><circle cx="300.9" cy="309.2" r="1.05" fill="#17130a"/>
<circle cx="328.5" cy="308.5" r="1.65" fill="#9a8018"/><circle cx="328.7" cy="308.6" r="1.05" fill="#17130a"/>
<circle cx="342.2" cy="308.5" r="1.65" fill="#9a8018"/><circle cx="342.4" cy="308.6" r="1.05" fill="#17130a"/>
<circle cx="370.6" cy="308.1" r="1.65" fill="#9a8018"/><circle cx="370.8" cy="308.2" r="1.05" fill="#17130a"/>
<circle cx="381.7" cy="308.1" r="1.65" fill="#9a8018"/><circle cx="381.9" cy="308.2" r="1.05" fill="#17130a"/>
<circle cx="409.6" cy="307.7" r="1.65" fill="#9a8018"/><circle cx="409.8" cy="307.8" r="1.05" fill="#17130a"/>
<circle cx="422.8" cy="307.7" r="1.65" fill="#9a8018"/><circle cx="423.0" cy="307.8" r="1.05" fill="#17130a"/>
<circle cx="449.5" cy="307.7" r="1.65" fill="#9a8018"/><circle cx="449.7" cy="307.8" r="1.05" fill="#17130a"/>
<circle cx="462.7" cy="307.7" r="1.65" fill="#9a8018"/><circle cx="462.9" cy="307.8" r="1.05" fill="#17130a"/>
<circle cx="488.6" cy="307.1" r="1.65" fill="#9a8018"/><circle cx="488.8" cy="307.2" r="1.05" fill="#17130a"/>
<circle cx="502.6" cy="307.1" r="1.65" fill="#9a8018"/><circle cx="502.8" cy="307.2" r="1.05" fill="#17130a"/>
<circle cx="529.5" cy="307.1" r="1.65" fill="#9a8018"/><circle cx="529.7" cy="307.2" r="1.05" fill="#17130a"/>
<circle cx="543.0" cy="307.1" r="1.65" fill="#9a8018"/><circle cx="543.2" cy="307.2" r="1.05" fill="#17130a"/>
<circle cx="569.6" cy="308.1" r="1.65" fill="#9a8018"/><circle cx="569.8" cy="308.2" r="1.05" fill="#17130a"/>
<circle cx="254.2" cy="313.8" r="1.65" fill="#9a8018"/><circle cx="254.4" cy="313.9" r="1.05" fill="#17130a"/>
<circle cx="287.2" cy="330.8" r="1.65" fill="#9a8018"/><circle cx="287.4" cy="330.9" r="1.05" fill="#17130a"/>
<circle cx="301.3" cy="330.4" r="1.65" fill="#9a8018"/><circle cx="301.5" cy="330.5" r="1.05" fill="#17130a"/>
<circle cx="327.0" cy="330.4" r="1.65" fill="#9a8018"/><circle cx="327.2" cy="330.5" r="1.05" fill="#17130a"/>
<circle cx="342.2" cy="330.4" r="1.65" fill="#9a8018"/><circle cx="342.4" cy="330.5" r="1.05" fill="#17130a"/>
<circle cx="368.5" cy="330.0" r="1.65" fill="#9a8018"/><circle cx="368.7" cy="330.1" r="1.05" fill="#17130a"/>
<circle cx="381.7" cy="330.0" r="1.65" fill="#9a8018"/><circle cx="381.9" cy="330.1" r="1.05" fill="#17130a"/>
<circle cx="409.0" cy="329.4" r="1.65" fill="#9a8018"/><circle cx="409.2" cy="329.5" r="1.05" fill="#17130a"/>
<circle cx="423.2" cy="329.4" r="1.65" fill="#9a8018"/><circle cx="423.4" cy="329.5" r="1.05" fill="#17130a"/>
<circle cx="448.5" cy="328.9" r="1.65" fill="#9a8018"/><circle cx="448.7" cy="329.0" r="1.05" fill="#17130a"/>
<circle cx="462.7" cy="328.9" r="1.65" fill="#9a8018"/><circle cx="462.9" cy="329.0" r="1.05" fill="#17130a"/>
<circle cx="488.6" cy="328.3" r="1.65" fill="#9a8018"/><circle cx="488.8" cy="328.4" r="1.05" fill="#17130a"/>
<circle cx="502.6" cy="328.3" r="1.65" fill="#9a8018"/><circle cx="502.8" cy="328.4" r="1.05" fill="#17130a"/>
<circle cx="528.5" cy="327.9" r="1.65" fill="#9a8018"/><circle cx="528.7" cy="328.0" r="1.05" fill="#17130a"/>
<circle cx="542.6" cy="327.3" r="1.65" fill="#9a8018"/><circle cx="542.8" cy="327.4" r="1.05" fill="#17130a"/>
<circle cx="568.9" cy="327.3" r="1.65" fill="#9a8018"/><circle cx="569.1" cy="327.4" r="1.05" fill="#17130a"/>
<circle cx="272.4" cy="344.5" r="1.65" fill="#9a8018"/><circle cx="272.6" cy="344.6" r="1.05" fill="#17130a"/>
<circle cx="292.2" cy="344.5" r="1.65" fill="#9a8018"/><circle cx="292.4" cy="344.6" r="1.05" fill="#17130a"/>
<circle cx="314.9" cy="342.5" r="1.65" fill="#9a8018"/><circle cx="315.1" cy="342.6" r="1.05" fill="#17130a"/>
<circle cx="331.5" cy="344.5" r="1.65" fill="#9a8018"/><circle cx="331.7" cy="344.6" r="1.05" fill="#17130a"/>
<circle cx="354.4" cy="342.5" r="1.65" fill="#9a8018"/><circle cx="354.6" cy="342.6" r="1.05" fill="#17130a"/>
<circle cx="372.6" cy="343.1" r="1.65" fill="#9a8018"/><circle cx="372.8" cy="343.2" r="1.05" fill="#17130a"/>
<circle cx="396.9" cy="341.1" r="1.65" fill="#9a8018"/><circle cx="397.1" cy="341.2" r="1.05" fill="#17130a"/>
<circle cx="412.1" cy="343.1" r="1.65" fill="#9a8018"/><circle cx="412.3" cy="343.2" r="1.05" fill="#17130a"/>
<circle cx="435.3" cy="341.1" r="1.65" fill="#9a8018"/><circle cx="435.5" cy="341.2" r="1.05" fill="#17130a"/>
<circle cx="454.0" cy="342.5" r="1.65" fill="#9a8018"/><circle cx="454.2" cy="342.6" r="1.05" fill="#17130a"/>
<circle cx="475.2" cy="340.1" r="1.65" fill="#9a8018"/><circle cx="475.4" cy="340.2" r="1.05" fill="#17130a"/>
<circle cx="490.4" cy="343.5" r="1.65" fill="#9a8018"/><circle cx="490.6" cy="343.6" r="1.05" fill="#17130a"/>
<circle cx="516.3" cy="340.1" r="1.65" fill="#9a8018"/><circle cx="516.5" cy="340.2" r="1.05" fill="#17130a"/>
<circle cx="532.9" cy="342.1" r="1.65" fill="#9a8018"/><circle cx="533.1" cy="342.2" r="1.05" fill="#17130a"/>
<circle cx="555.4" cy="339.5" r="1.65" fill="#9a8018"/><circle cx="555.6" cy="339.6" r="1.05" fill="#17130a"/>
<circle cx="571.4" cy="342.1" r="1.65" fill="#9a8018"/><circle cx="571.6" cy="342.2" r="1.05" fill="#17130a"/>
<circle cx="260.2" cy="356.7" r="1.65" fill="#9a8018"/><circle cx="260.4" cy="356.8" r="1.05" fill="#17130a"/>
<circle cx="302.3" cy="354.3" r="1.65" fill="#9a8018"/><circle cx="302.5" cy="354.4" r="1.05" fill="#17130a"/>
<circle cx="342.2" cy="354.3" r="1.65" fill="#9a8018"/><circle cx="342.4" cy="354.4" r="1.05" fill="#17130a"/>
<circle cx="356.4" cy="358.7" r="1.65" fill="#9a8018"/><circle cx="356.6" cy="358.8" r="1.05" fill="#17130a"/>
<circle cx="384.7" cy="352.2" r="1.65" fill="#9a8018"/><circle cx="384.9" cy="352.3" r="1.05" fill="#17130a"/>
<circle cx="398.9" cy="355.7" r="1.65" fill="#9a8018"/><circle cx="399.1" cy="355.8" r="1.05" fill="#17130a"/>
<circle cx="422.2" cy="354.3" r="1.65" fill="#9a8018"/><circle cx="422.4" cy="354.4" r="1.05" fill="#17130a"/>
<circle cx="441.4" cy="354.3" r="1.65" fill="#9a8018"/><circle cx="441.6" cy="354.4" r="1.05" fill="#17130a"/>
<circle cx="463.7" cy="351.6" r="1.65" fill="#9a8018"/><circle cx="463.9" cy="351.7" r="1.05" fill="#17130a"/>
<circle cx="478.9" cy="355.7" r="1.65" fill="#9a8018"/><circle cx="479.1" cy="355.8" r="1.05" fill="#17130a"/>
<circle cx="504.2" cy="351.2" r="1.65" fill="#9a8018"/><circle cx="504.4" cy="351.3" r="1.05" fill="#17130a"/>
<circle cx="520.4" cy="353.2" r="1.65" fill="#9a8018"/><circle cx="520.6" cy="353.3" r="1.05" fill="#17130a"/>
<circle cx="543.6" cy="351.6" r="1.65" fill="#9a8018"/><circle cx="543.8" cy="351.7" r="1.05" fill="#17130a"/>
<circle cx="558.8" cy="354.3" r="1.65" fill="#9a8018"/><circle cx="559.0" cy="354.4" r="1.05" fill="#17130a"/>
<circle cx="245.1" cy="369.8" r="1.65" fill="#9a8018"/><circle cx="245.3" cy="369.9" r="1.05" fill="#17130a"/>
<circle cx="288.6" cy="366.8" r="1.65" fill="#9a8018"/><circle cx="288.8" cy="366.9" r="1.05" fill="#17130a"/>
<circle cx="304.4" cy="369.8" r="1.65" fill="#9a8018"/><circle cx="304.6" cy="369.9" r="1.05" fill="#17130a"/>
<circle cx="328.5" cy="366.8" r="1.65" fill="#9a8018"/><circle cx="328.7" cy="366.9" r="1.05" fill="#17130a"/>
<circle cx="371.6" cy="365.2" r="1.65" fill="#9a8018"/><circle cx="371.8" cy="365.3" r="1.05" fill="#17130a"/>
<circle cx="385.7" cy="368.8" r="1.65" fill="#9a8018"/><circle cx="385.9" cy="368.9" r="1.05" fill="#17130a"/>
<circle cx="409.6" cy="366.2" r="1.65" fill="#9a8018"/><circle cx="409.8" cy="366.3" r="1.05" fill="#17130a"/>
<circle cx="429.3" cy="365.8" r="1.65" fill="#9a8018"/><circle cx="429.5" cy="365.9" r="1.05" fill="#17130a"/>
<circle cx="450.5" cy="363.4" r="1.65" fill="#9a8018"/><circle cx="450.7" cy="363.5" r="1.05" fill="#17130a"/>
<circle cx="466.3" cy="366.8" r="1.65" fill="#9a8018"/><circle cx="466.5" cy="366.9" r="1.05" fill="#17130a"/>
<circle cx="491.6" cy="363.4" r="1.65" fill="#9a8018"/><circle cx="491.8" cy="363.5" r="1.05" fill="#17130a"/>
<circle cx="508.8" cy="364.4" r="1.65" fill="#9a8018"/><circle cx="509.0" cy="364.5" r="1.05" fill="#17130a"/>
<circle cx="530.5" cy="365.2" r="1.65" fill="#9a8018"/><circle cx="530.7" cy="365.3" r="1.05" fill="#17130a"/>
<circle cx="547.1" cy="365.8" r="1.65" fill="#9a8018"/><circle cx="547.3" cy="365.9" r="1.05" fill="#17130a"/>
<circle cx="260.2" cy="372.9" r="1.65" fill="#9a8018"/><circle cx="260.4" cy="373.0" r="1.05" fill="#17130a"/>
<circle cx="341.2" cy="372.5" r="1.65" fill="#9a8018"/><circle cx="341.4" cy="372.6" r="1.05" fill="#17130a"/>
<circle cx="273.4" cy="381.6" r="1.65" fill="#9a8018"/><circle cx="273.6" cy="381.7" r="1.05" fill="#17130a"/>
<circle cx="289.2" cy="383.4" r="1.65" fill="#9a8018"/><circle cx="289.4" cy="383.5" r="1.05" fill="#17130a"/>
<circle cx="328.5" cy="384.6" r="1.65" fill="#9a8018"/><circle cx="328.7" cy="384.7" r="1.05" fill="#17130a"/>
<circle cx="355.4" cy="381.6" r="1.65" fill="#9a8018"/><circle cx="355.6" cy="381.7" r="1.05" fill="#17130a"/>
<circle cx="417.1" cy="377.9" r="1.65" fill="#9a8018"/><circle cx="417.3" cy="378.0" r="1.05" fill="#17130a"/>
<circle cx="451.5" cy="381.6" r="1.65" fill="#9a8018"/><circle cx="451.7" cy="381.7" r="1.05" fill="#17130a"/>
<circle cx="476.4" cy="377.3" r="1.65" fill="#9a8018"/><circle cx="476.6" cy="377.4" r="1.05" fill="#17130a"/>
<circle cx="495.5" cy="378.3" r="1.65" fill="#9a8018"/><circle cx="495.7" cy="378.4" r="1.05" fill="#17130a"/>
<circle cx="515.3" cy="378.9" r="1.65" fill="#9a8018"/><circle cx="515.5" cy="379.0" r="1.05" fill="#17130a"/>
<circle cx="533.5" cy="377.9" r="1.65" fill="#9a8018"/><circle cx="533.7" cy="378.0" r="1.05" fill="#17130a"/>
<circle cx="243.6" cy="389.1" r="1.65" fill="#9a8018"/><circle cx="243.8" cy="389.2" r="1.05" fill="#17130a"/>
<circle cx="404.0" cy="390.5" r="1.65" fill="#9a8018"/><circle cx="404.2" cy="390.6" r="1.05" fill="#17130a"/>
<circle cx="482.3" cy="390.1" r="1.65" fill="#9a8018"/><circle cx="482.5" cy="390.2" r="1.05" fill="#17130a"/>
<circle cx="522.8" cy="390.5" r="1.65" fill="#9a8018"/><circle cx="523.0" cy="390.6" r="1.05" fill="#17130a"/>
<circle cx="567.3" cy="390.1" r="1.65" fill="#9a8018"/><circle cx="567.5" cy="390.2" r="1.05" fill="#17130a"/>
<circle cx="581.6" cy="327.3" r="1.65" fill="#9a8018"/><circle cx="581.8" cy="327.4" r="1.05" fill="#17130a"/>
<circle cx="648.8" cy="326.3" r="1.65" fill="#9a8018"/><circle cx="649.0" cy="326.4" r="1.05" fill="#17130a"/>
<circle cx="637.7" cy="333.4" r="1.65" fill="#9a8018"/><circle cx="637.9" cy="333.5" r="1.05" fill="#17130a"/>
<circle cx="626.6" cy="344.1" r="1.65" fill="#9a8018"/><circle cx="626.8" cy="344.2" r="1.05" fill="#17130a"/>
<circle cx="615.4" cy="355.1" r="1.65" fill="#9a8018"/><circle cx="615.6" cy="355.2" r="1.05" fill="#17130a"/>
<circle cx="603.9" cy="365.8" r="1.65" fill="#9a8018"/><circle cx="604.1" cy="365.9" r="1.05" fill="#17130a"/>
<circle cx="593.2" cy="376.9" r="1.65" fill="#9a8018"/><circle cx="593.4" cy="377.0" r="1.05" fill="#17130a"/>
<circle cx="581.6" cy="388.1" r="1.65" fill="#9a8018"/><circle cx="581.8" cy="388.2" r="1.05" fill="#17130a"/>
<circle cx="614.0" cy="309.1" r="1.65" fill="#9a8018"/><circle cx="614.2" cy="309.2" r="1.05" fill="#17130a"/>
<circle cx="288.0" cy="242.1" r="1.65" fill="#9a8018"/><circle cx="288.2" cy="242.2" r="1.05" fill="#17130a"/>
<circle cx="243.4" cy="246.6" r="1.65" fill="#9a8018"/><circle cx="243.6" cy="246.7" r="1.05" fill="#17130a"/>
<circle cx="284.1" cy="248.6" r="1.65" fill="#9a8018"/><circle cx="284.3" cy="248.7" r="1.05" fill="#17130a"/>
<circle cx="295.3" cy="253.6" r="1.65" fill="#9a8018"/><circle cx="295.5" cy="253.7" r="1.05" fill="#17130a"/>
<circle cx="303.4" cy="253.2" r="1.65" fill="#9a8018"/><circle cx="303.6" cy="253.3" r="1.05" fill="#17130a"/>
<circle cx="317.9" cy="249.6" r="1.65" fill="#9a8018"/><circle cx="318.1" cy="249.7" r="1.05" fill="#17130a"/>
<circle cx="311.9" cy="260.7" r="1.65" fill="#9a8018"/><circle cx="312.1" cy="260.8" r="1.05" fill="#17130a"/>
<circle cx="347.3" cy="254.7" r="1.65" fill="#9a8018"/><circle cx="347.5" cy="254.8" r="1.05" fill="#17130a"/>
<circle cx="367.5" cy="243.1" r="1.65" fill="#9a8018"/><circle cx="367.7" cy="243.2" r="1.05" fill="#17130a"/>
<circle cx="370.6" cy="249.0" r="1.65" fill="#9a8018"/><circle cx="370.8" cy="249.1" r="1.05" fill="#17130a"/>
<circle cx="367.9" cy="260.7" r="1.65" fill="#9a8018"/><circle cx="368.1" cy="260.8" r="1.05" fill="#17130a"/>
<circle cx="311.9" cy="270.2" r="1.65" fill="#9a8018"/><circle cx="312.1" cy="270.3" r="1.05" fill="#17130a"/>
<circle cx="326.0" cy="274.5" r="1.65" fill="#9a8018"/><circle cx="326.2" cy="274.6" r="1.05" fill="#17130a"/>
<circle cx="277.4" cy="276.9" r="1.65" fill="#9a8018"/><circle cx="277.6" cy="277.0" r="1.05" fill="#17130a"/>
<circle cx="290.6" cy="275.3" r="1.65" fill="#9a8018"/><circle cx="290.8" cy="275.4" r="1.05" fill="#17130a"/>
<circle cx="299.3" cy="275.9" r="1.65" fill="#9a8018"/><circle cx="299.5" cy="276.0" r="1.05" fill="#17130a"/>
<circle cx="242.4" cy="275.3" r="1.65" fill="#9a8018"/><circle cx="242.6" cy="275.4" r="1.05" fill="#17130a"/>
<circle cx="427.2" cy="240.5" r="1.65" fill="#9a8018"/><circle cx="427.4" cy="240.6" r="1.05" fill="#17130a"/>
<circle cx="396.9" cy="248.2" r="1.65" fill="#9a8018"/><circle cx="397.1" cy="248.3" r="1.05" fill="#17130a"/>
<circle cx="408.0" cy="248.2" r="1.65" fill="#9a8018"/><circle cx="408.2" cy="248.3" r="1.05" fill="#17130a"/>
<circle cx="417.1" cy="248.6" r="1.65" fill="#9a8018"/><circle cx="417.3" cy="248.7" r="1.05" fill="#17130a"/>
<circle cx="412.1" cy="253.0" r="1.65" fill="#9a8018"/><circle cx="412.3" cy="253.1" r="1.05" fill="#17130a"/>
<circle cx="422.8" cy="253.0" r="1.65" fill="#9a8018"/><circle cx="423.0" cy="253.1" r="1.05" fill="#17130a"/>
<circle cx="433.7" cy="252.0" r="1.65" fill="#9a8018"/><circle cx="433.9" cy="252.1" r="1.05" fill="#17130a"/>
<circle cx="397.5" cy="260.7" r="1.65" fill="#9a8018"/><circle cx="397.7" cy="260.8" r="1.05" fill="#17130a"/>
<circle cx="404.6" cy="260.7" r="1.65" fill="#9a8018"/><circle cx="404.8" cy="260.8" r="1.05" fill="#17130a"/>
<circle cx="395.9" cy="271.9" r="1.65" fill="#9a8018"/><circle cx="396.1" cy="272.0" r="1.05" fill="#17130a"/>
<circle cx="367.5" cy="272.9" r="1.65" fill="#9a8018"/><circle cx="367.7" cy="273.0" r="1.05" fill="#17130a"/>
<circle cx="387.8" cy="274.5" r="1.65" fill="#9a8018"/><circle cx="388.0" cy="274.6" r="1.05" fill="#17130a"/>
<circle cx="413.7" cy="276.3" r="1.65" fill="#9a8018"/><circle cx="413.9" cy="276.4" r="1.05" fill="#17130a"/>
<circle cx="423.2" cy="276.3" r="1.65" fill="#9a8018"/><circle cx="423.4" cy="276.4" r="1.05" fill="#17130a"/>
<circle cx="433.3" cy="275.3" r="1.65" fill="#9a8018"/><circle cx="433.5" cy="275.4" r="1.05" fill="#17130a"/>
<circle cx="377.7" cy="277.9" r="1.65" fill="#9a8018"/><circle cx="377.9" cy="278.0" r="1.05" fill="#17130a"/>
<circle cx="349.3" cy="286.6" r="1.65" fill="#9a8018"/><circle cx="349.5" cy="286.7" r="1.05" fill="#17130a"/>
<circle cx="361.5" cy="297.2" r="1.65" fill="#9a8018"/><circle cx="361.7" cy="297.3" r="1.05" fill="#17130a"/>
<circle cx="469.8" cy="243.5" r="1.65" fill="#9a8018"/><circle cx="470.0" cy="243.6" r="1.05" fill="#17130a"/>
<circle cx="477.4" cy="248.6" r="1.65" fill="#9a8018"/><circle cx="477.6" cy="248.7" r="1.05" fill="#17130a"/>
<circle cx="458.2" cy="253.0" r="1.65" fill="#9a8018"/><circle cx="458.4" cy="253.1" r="1.05" fill="#17130a"/>
<circle cx="465.3" cy="256.1" r="1.65" fill="#9a8018"/><circle cx="465.5" cy="256.2" r="1.05" fill="#17130a"/>
<circle cx="446.1" cy="256.7" r="1.65" fill="#9a8018"/><circle cx="446.3" cy="256.8" r="1.05" fill="#17130a"/>
<circle cx="451.5" cy="263.2" r="1.65" fill="#9a8018"/><circle cx="451.7" cy="263.3" r="1.05" fill="#17130a"/>
<circle cx="463.3" cy="261.7" r="1.65" fill="#9a8018"/><circle cx="463.5" cy="261.8" r="1.05" fill="#17130a"/>
<circle cx="473.4" cy="260.7" r="1.65" fill="#9a8018"/><circle cx="473.6" cy="260.8" r="1.05" fill="#17130a"/>
<circle cx="450.5" cy="271.9" r="1.65" fill="#9a8018"/><circle cx="450.7" cy="272.0" r="1.05" fill="#17130a"/>
<circle cx="463.7" cy="269.8" r="1.65" fill="#9a8018"/><circle cx="463.9" cy="269.9" r="1.05" fill="#17130a"/>
<circle cx="472.8" cy="271.3" r="1.65" fill="#9a8018"/><circle cx="473.0" cy="271.4" r="1.05" fill="#17130a"/>
<circle cx="486.0" cy="273.9" r="1.65" fill="#9a8018"/><circle cx="486.2" cy="274.0" r="1.05" fill="#17130a"/>
<circle cx="442.4" cy="275.5" r="1.65" fill="#9a8018"/><circle cx="442.6" cy="275.6" r="1.05" fill="#17130a"/>
<circle cx="503.2" cy="277.9" r="1.65" fill="#9a8018"/><circle cx="503.4" cy="278.0" r="1.05" fill="#17130a"/>
<circle cx="502.3" cy="253.6" r="1.65" fill="#9a8018"/><circle cx="502.5" cy="253.7" r="1.05" fill="#17130a"/>
<circle cx="530.9" cy="248.6" r="1.65" fill="#9a8018"/><circle cx="531.1" cy="248.7" r="1.05" fill="#17130a"/>
<circle cx="530.9" cy="260.3" r="1.65" fill="#9a8018"/><circle cx="531.1" cy="260.4" r="1.05" fill="#17130a"/>
<circle cx="530.5" cy="270.9" r="1.65" fill="#9a8018"/><circle cx="530.7" cy="271.0" r="1.05" fill="#17130a"/>
<circle cx="536.6" cy="276.3" r="1.65" fill="#9a8018"/><circle cx="536.8" cy="276.4" r="1.05" fill="#17130a"/>
<circle cx="549.7" cy="274.9" r="1.65" fill="#9a8018"/><circle cx="549.9" cy="275.0" r="1.05" fill="#17130a"/>
<circle cx="555.4" cy="247.6" r="1.65" fill="#9a8018"/><circle cx="555.6" cy="247.7" r="1.05" fill="#17130a"/>
<circle cx="571.0" cy="251.6" r="1.65" fill="#9a8018"/><circle cx="571.2" cy="251.7" r="1.05" fill="#17130a"/>
<circle cx="554.8" cy="259.3" r="1.65" fill="#9a8018"/><circle cx="555.0" cy="259.4" r="1.05" fill="#17130a"/>
<circle cx="564.9" cy="260.3" r="1.65" fill="#9a8018"/><circle cx="565.1" cy="260.4" r="1.05" fill="#17130a"/>
<circle cx="555.4" cy="271.5" r="1.65" fill="#9a8018"/><circle cx="555.6" cy="271.6" r="1.05" fill="#17130a"/>
<circle cx="566.3" cy="270.9" r="1.65" fill="#9a8018"/><circle cx="566.5" cy="271.0" r="1.05" fill="#17130a"/>
<circle cx="390.8" cy="292.1" r="1.65" fill="#9a8018"/><circle cx="391.0" cy="292.2" r="1.05" fill="#17130a"/>
<circle cx="401.3" cy="292.7" r="1.65" fill="#9a8018"/><circle cx="401.5" cy="292.8" r="1.05" fill="#17130a"/>
<circle cx="431.3" cy="287.4" r="1.65" fill="#9a8018"/><circle cx="431.5" cy="287.5" r="1.05" fill="#17130a"/>
<circle cx="441.8" cy="287.4" r="1.65" fill="#9a8018"/><circle cx="442.0" cy="287.5" r="1.05" fill="#17130a"/>
<circle cx="471.8" cy="289.1" r="1.65" fill="#9a8018"/><circle cx="472.0" cy="289.2" r="1.05" fill="#17130a"/>
<circle cx="480.9" cy="287.4" r="1.65" fill="#9a8018"/><circle cx="481.1" cy="287.5" r="1.05" fill="#17130a"/>
<circle cx="512.3" cy="290.1" r="1.65" fill="#9a8018"/><circle cx="512.5" cy="290.2" r="1.05" fill="#17130a"/>
<circle cx="520.8" cy="289.1" r="1.65" fill="#9a8018"/><circle cx="521.0" cy="289.2" r="1.05" fill="#17130a"/>
<circle cx="551.7" cy="291.1" r="1.65" fill="#9a8018"/><circle cx="551.9" cy="291.2" r="1.05" fill="#17130a"/>
<circle cx="547.7" cy="284.0" r="1.65" fill="#9a8018"/><circle cx="547.9" cy="284.1" r="1.05" fill="#17130a"/>
<circle cx="562.9" cy="296.2" r="1.65" fill="#9a8018"/><circle cx="563.1" cy="296.3" r="1.05" fill="#17130a"/>
<circle cx="574.4" cy="295.1" r="1.65" fill="#9a8018"/><circle cx="574.6" cy="295.2" r="1.05" fill="#17130a"/>
<circle cx="432.3" cy="296.2" r="1.65" fill="#9a8018"/><circle cx="432.5" cy="296.3" r="1.05" fill="#17130a"/>
<circle cx="322.0" cy="289.1" r="1.65" fill="#9a8018"/><circle cx="322.2" cy="289.2" r="1.05" fill="#17130a"/>
<circle cx="310.9" cy="289.1" r="1.65" fill="#9a8018"/><circle cx="311.1" cy="289.2" r="1.05" fill="#17130a"/>
<circle cx="281.5" cy="289.1" r="1.65" fill="#9a8018"/><circle cx="281.7" cy="289.2" r="1.05" fill="#17130a"/>
<circle cx="272.4" cy="295.1" r="1.65" fill="#9a8018"/><circle cx="272.6" cy="295.2" r="1.05" fill="#17130a"/>
<circle cx="350.3" cy="297.2" r="1.65" fill="#9a8018"/><circle cx="350.5" cy="297.3" r="1.05" fill="#17130a"/>
<circle cx="651.8" cy="246.2" r="1.65" fill="#9a8018"/><circle cx="652.0" cy="246.3" r="1.05" fill="#17130a"/>
<circle cx="728.7" cy="241.1" r="1.65" fill="#9a8018"/><circle cx="728.9" cy="241.2" r="1.05" fill="#17130a"/>
<circle cx="746.6" cy="241.1" r="1.65" fill="#9a8018"/><circle cx="746.8" cy="241.2" r="1.05" fill="#17130a"/>
<circle cx="758.1" cy="256.3" r="1.65" fill="#9a8018"/><circle cx="758.3" cy="256.4" r="1.05" fill="#17130a"/>
<circle cx="521.3" cy="283.6" r="1.65" fill="#9a8018"/><circle cx="521.5" cy="283.7" r="1.05" fill="#17130a"/>
<circle cx="594.1" cy="290.7" r="1.65" fill="#9a8018"/><circle cx="594.3" cy="290.8" r="1.05" fill="#17130a"/>
<circle cx="632.6" cy="290.7" r="1.65" fill="#9a8018"/><circle cx="632.8" cy="290.8" r="1.05" fill="#17130a"/>
<circle cx="673.1" cy="290.3" r="1.65" fill="#9a8018"/><circle cx="673.3" cy="290.4" r="1.05" fill="#17130a"/>
<circle cx="520.2" cy="298.8" r="1.65" fill="#9a8018"/><circle cx="520.4" cy="298.9" r="1.05" fill="#17130a"/>
<circle cx="581.0" cy="307.5" r="1.65" fill="#9a8018"/><circle cx="581.2" cy="307.6" r="1.05" fill="#17130a"/>
<circle cx="591.1" cy="246.2" r="1.65" fill="#9a8018"/><circle cx="591.3" cy="246.3" r="1.05" fill="#17130a"/>
<circle cx="587.0" cy="239.1" r="1.65" fill="#9a8018"/><circle cx="587.2" cy="239.2" r="1.05" fill="#17130a"/>
<circle cx="195.8" cy="295.8" r="1.65" fill="#9a8018"/><circle cx="196.0" cy="295.9" r="1.05" fill="#17130a"/>
<circle cx="212.4" cy="314.0" r="1.65" fill="#9a8018"/><circle cx="212.6" cy="314.1" r="1.05" fill="#17130a"/>
<circle cx="1463.3" cy="217.2" r="1.65" fill="#9a8018"/><circle cx="1463.5" cy="217.3" r="1.05" fill="#17130a"/>
<circle cx="1483.5" cy="216.2" r="1.65" fill="#9a8018"/><circle cx="1483.7" cy="216.3" r="1.05" fill="#17130a"/>
<circle cx="1474.4" cy="227.3" r="1.65" fill="#9a8018"/><circle cx="1474.6" cy="227.4" r="1.05" fill="#17130a"/>
<circle cx="1494.7" cy="232.4" r="1.65" fill="#9a8018"/><circle cx="1494.9" cy="232.5" r="1.05" fill="#17130a"/>
<circle cx="1279.7" cy="244.7" r="1.65" fill="#9a8018"/><circle cx="1279.9" cy="244.8" r="1.05" fill="#17130a"/>
<circle cx="1306.4" cy="243.9" r="1.65" fill="#9a8018"/><circle cx="1306.6" cy="244.0" r="1.05" fill="#17130a"/>
<circle cx="1315.1" cy="244.3" r="1.65" fill="#9a8018"/><circle cx="1315.3" cy="244.4" r="1.05" fill="#17130a"/>
<circle cx="1274.6" cy="283.8" r="1.65" fill="#9a8018"/><circle cx="1274.8" cy="283.9" r="1.05" fill="#17130a"/>
<circle cx="1311.7" cy="283.2" r="1.65" fill="#9a8018"/><circle cx="1311.9" cy="283.3" r="1.05" fill="#17130a"/>
<circle cx="1345.5" cy="283.2" r="1.65" fill="#9a8018"/><circle cx="1345.7" cy="283.3" r="1.05" fill="#17130a"/>
<circle cx="1294.9" cy="303.0" r="1.65" fill="#9a8018"/><circle cx="1295.1" cy="303.1" r="1.05" fill="#17130a"/>
<circle cx="1331.3" cy="302.6" r="1.65" fill="#9a8018"/><circle cx="1331.5" cy="302.7" r="1.05" fill="#17130a"/>
<circle cx="1173.4" cy="396.4" r="1.65" fill="#9a8018"/><circle cx="1173.6" cy="396.5" r="1.05" fill="#17130a"/>
<circle cx="1210.8" cy="396.4" r="1.65" fill="#9a8018"/><circle cx="1211.0" cy="396.5" r="1.05" fill="#17130a"/>
<circle cx="1247.5" cy="395.2" r="1.65" fill="#9a8018"/><circle cx="1247.7" cy="395.3" r="1.05" fill="#17130a"/>
<circle cx="1284.7" cy="395.0" r="1.65" fill="#9a8018"/><circle cx="1284.9" cy="395.1" r="1.05" fill="#17130a"/>
<circle cx="1321.5" cy="394.6" r="1.65" fill="#9a8018"/><circle cx="1321.7" cy="394.7" r="1.05" fill="#17130a"/>
<circle cx="1155.1" cy="415.1" r="1.65" fill="#9a8018"/><circle cx="1155.3" cy="415.2" r="1.05" fill="#17130a"/>
<circle cx="1193.4" cy="414.6" r="1.65" fill="#9a8018"/><circle cx="1193.6" cy="414.7" r="1.05" fill="#17130a"/>
<circle cx="1230.6" cy="414.2" r="1.65" fill="#9a8018"/><circle cx="1230.8" cy="414.3" r="1.05" fill="#17130a"/>
<circle cx="1267.4" cy="413.5" r="1.65" fill="#9a8018"/><circle cx="1267.6" cy="413.6" r="1.05" fill="#17130a"/>
<circle cx="1304.3" cy="412.8" r="1.65" fill="#9a8018"/><circle cx="1304.5" cy="412.9" r="1.05" fill="#17130a"/>
<circle cx="1341.5" cy="412.4" r="1.65" fill="#9a8018"/><circle cx="1341.7" cy="412.5" r="1.05" fill="#17130a"/>
<circle cx="1022.2" cy="399.0" r="1.65" fill="#9a8018"/><circle cx="1022.4" cy="399.1" r="1.05" fill="#17130a"/>
<circle cx="1060.5" cy="398.3" r="1.65" fill="#9a8018"/><circle cx="1060.7" cy="398.4" r="1.05" fill="#17130a"/>
<circle cx="1098.3" cy="397.9" r="1.65" fill="#9a8018"/><circle cx="1098.5" cy="398.0" r="1.05" fill="#17130a"/>
<circle cx="1135.7" cy="396.8" r="1.65" fill="#9a8018"/><circle cx="1135.9" cy="396.9" r="1.05" fill="#17130a"/>
<circle cx="1042.2" cy="417.5" r="1.65" fill="#9a8018"/><circle cx="1042.4" cy="417.6" r="1.05" fill="#17130a"/>
<circle cx="1080.1" cy="416.8" r="1.65" fill="#9a8018"/><circle cx="1080.3" cy="416.9" r="1.05" fill="#17130a"/>
<circle cx="1117.9" cy="416.2" r="1.65" fill="#9a8018"/><circle cx="1118.1" cy="416.3" r="1.05" fill="#17130a"/>
<circle cx="510.0" cy="402.3" r="1.65" fill="#9a8018"/><circle cx="510.2" cy="402.4" r="1.05" fill="#17130a"/>
<circle cx="552.8" cy="406.8" r="1.65" fill="#9a8018"/><circle cx="553.0" cy="406.9" r="1.05" fill="#17130a"/>
<circle cx="517.4" cy="407.9" r="1.65" fill="#9a8018"/><circle cx="517.6" cy="408.0" r="1.05" fill="#17130a"/>
<circle cx="559.7" cy="419.0" r="1.65" fill="#9a8018"/><circle cx="559.9" cy="419.1" r="1.05" fill="#17130a"/>
<circle cx="534.5" cy="426.8" r="1.65" fill="#9a8018"/><circle cx="534.7" cy="426.9" r="1.05" fill="#17130a"/>
<circle cx="560.1" cy="430.2" r="1.65" fill="#9a8018"/><circle cx="560.3" cy="430.3" r="1.05" fill="#17130a"/>
<circle cx="503.3" cy="423.5" r="1.65" fill="#9a8018"/><circle cx="503.5" cy="423.6" r="1.05" fill="#17130a"/>
<circle cx="229.8" cy="384.6" r="1.65" fill="#9a8018"/><circle cx="230.0" cy="384.7" r="1.05" fill="#17130a"/>
<circle cx="379.9" cy="394.4" r="1.65" fill="#9a8018"/><circle cx="380.1" cy="394.5" r="1.05" fill="#17130a"/>
<circle cx="420.4" cy="394.4" r="1.65" fill="#9a8018"/><circle cx="420.6" cy="394.5" r="1.05" fill="#17130a"/>
<circle cx="192.1" cy="399.2" r="1.65" fill="#9a8018"/><circle cx="192.3" cy="399.3" r="1.05" fill="#17130a"/>
<circle cx="215.9" cy="397.5" r="1.65" fill="#9a8018"/><circle cx="216.1" cy="397.6" r="1.05" fill="#17130a"/>
<circle cx="257.7" cy="396.1" r="1.65" fill="#9a8018"/><circle cx="257.9" cy="396.2" r="1.05" fill="#17130a"/>
<circle cx="297.8" cy="395.6" r="1.65" fill="#9a8018"/><circle cx="298.0" cy="395.7" r="1.05" fill="#17130a"/>
<circle cx="339.8" cy="395.1" r="1.65" fill="#9a8018"/><circle cx="340.0" cy="395.2" r="1.05" fill="#17130a"/>
<circle cx="402.9" cy="393.6" r="1.65" fill="#9a8018"/><circle cx="403.1" cy="393.7" r="1.05" fill="#17130a"/>
<circle cx="438.1" cy="393.6" r="1.65" fill="#9a8018"/><circle cx="438.3" cy="393.7" r="1.05" fill="#17130a"/>
<circle cx="469.7" cy="402.9" r="1.65" fill="#9a8018"/><circle cx="469.9" cy="403.0" r="1.05" fill="#17130a"/>
<circle cx="233.4" cy="418.6" r="1.65" fill="#9a8018"/><circle cx="233.6" cy="418.7" r="1.05" fill="#17130a"/>
<circle cx="274.2" cy="417.9" r="1.65" fill="#9a8018"/><circle cx="274.4" cy="418.0" r="1.05" fill="#17130a"/>
<circle cx="316.0" cy="416.2" r="1.65" fill="#9a8018"/><circle cx="316.2" cy="416.3" r="1.05" fill="#17130a"/>
<circle cx="356.8" cy="416.2" r="1.65" fill="#9a8018"/><circle cx="357.0" cy="416.3" r="1.05" fill="#17130a"/>
<circle cx="397.3" cy="416.2" r="1.65" fill="#9a8018"/><circle cx="397.5" cy="416.3" r="1.05" fill="#17130a"/>
<circle cx="435.0" cy="418.6" r="1.65" fill="#9a8018"/><circle cx="435.2" cy="418.7" r="1.05" fill="#17130a"/>
<circle cx="479.9" cy="416.2" r="1.65" fill="#9a8018"/><circle cx="480.1" cy="416.3" r="1.05" fill="#17130a"/>
<circle cx="249.2" cy="429.1" r="1.65" fill="#9a8018"/><circle cx="249.4" cy="429.2" r="1.05" fill="#17130a"/>
<circle cx="290.5" cy="428.3" r="1.65" fill="#9a8018"/><circle cx="290.7" cy="428.4" r="1.05" fill="#17130a"/>
<circle cx="331.8" cy="427.9" r="1.65" fill="#9a8018"/><circle cx="332.0" cy="428.0" r="1.05" fill="#17130a"/>
<circle cx="373.1" cy="426.6" r="1.65" fill="#9a8018"/><circle cx="373.3" cy="426.7" r="1.05" fill="#17130a"/>
<circle cx="413.1" cy="426.6" r="1.65" fill="#9a8018"/><circle cx="413.3" cy="426.7" r="1.05" fill="#17130a"/>
<circle cx="453.2" cy="425.9" r="1.65" fill="#9a8018"/><circle cx="453.4" cy="426.0" r="1.05" fill="#17130a"/>
<circle cx="192.1" cy="417.4" r="1.65" fill="#9a8018"/><circle cx="192.3" cy="417.5" r="1.05" fill="#17130a"/>
<circle cx="207.9" cy="429.1" r="1.65" fill="#9a8018"/><circle cx="208.1" cy="429.2" r="1.05" fill="#17130a"/>
<path d="M234.7,282.2 L1348.5,271.6 L1349.5,296.5 L234.9,308 Z" fill="none" stroke="#e8e8e0" stroke-width="1.6"/>
<path d="M228.6,399.7 L1359.3,381.7 L1360,406.4 L229,426 Z" fill="none" stroke="#e8e8e0" stroke-width="1.6"/>
<path d="M200.5,285 L200.5,309.5 L215,309.5" fill="none" stroke="#e8e8e0" stroke-width="1.4"/>
<path d="M194.5,402 L194.5,427 L209,427" fill="none" stroke="#e8e8e0" stroke-width="1.4"/>
<rect x="202.20000000000002" y="284.0" width="24.4" height="23.599999999999998" fill="#2b4224"/>
<rect x="203.4" y="285.2" width="22.0" height="21.2" fill="#d6bd0c"/>
<clipPath id="h6"><ellipse cx="214.40" cy="295.80" rx="8.65" ry="7.97"/></clipPath>
<ellipse cx="214.40" cy="295.80" rx="8.65" ry="7.97" fill="#17120a"/>
<ellipse cx="218.94" cy="299.10" rx="8.65" ry="7.97" fill="#9898b4" clip-path="url(#h6)"/>
<ellipse cx="255.3" cy="295.3959430604982" rx="12.599624277456646" ry="11.849913294797688" fill="#2b4224"/>
<ellipse cx="255.3" cy="295.3959430604982" rx="11.199624277456646" ry="10.449913294797687" fill="#d6bd0c"/>
<clipPath id="h7"><ellipse cx="255.30" cy="295.40" rx="8.60" ry="7.95"/></clipPath>
<ellipse cx="255.30" cy="295.40" rx="8.60" ry="7.95" fill="#17120a"/>
<ellipse cx="259.50" cy="298.70" rx="8.60" ry="7.95" fill="#9898b4" clip-path="url(#h7)"/>
<ellipse cx="296" cy="294.8455516014235" rx="12.548651252408478" ry="11.83815028901734" fill="#2b4224"/>
<ellipse cx="296" cy="294.8455516014235" rx="11.148651252408477" ry="10.43815028901734" fill="#d6bd0c"/>
<clipPath id="h8"><ellipse cx="296.00" cy="294.85" rx="8.55" ry="7.93"/></clipPath>
<ellipse cx="296.00" cy="294.85" rx="8.55" ry="7.93" fill="#17120a"/>
<ellipse cx="299.86" cy="298.15" rx="8.55" ry="7.93" fill="#9898b4" clip-path="url(#h8)"/>
<ellipse cx="336.5" cy="294.29786476868327" rx="12.497928709055877" ry="11.826445086705203" fill="#2b4224"/>
<ellipse cx="336.5" cy="294.29786476868327" rx="11.097928709055877" ry="10.426445086705202" fill="#d6bd0c"/>
<clipPath id="h9"><ellipse cx="336.50" cy="294.30" rx="8.51" ry="7.92"/></clipPath>
<ellipse cx="336.50" cy="294.30" rx="8.51" ry="7.92" fill="#17120a"/>
<ellipse cx="340.02" cy="297.60" rx="8.51" ry="7.92" fill="#9898b4" clip-path="url(#h9)"/>
<ellipse cx="376.4" cy="293.75829181494663" rx="12.447957610789981" ry="11.814913294797687" fill="#2b4224"/>
<ellipse cx="376.4" cy="293.75829181494663" rx="11.04795761078998" ry="10.414913294797687" fill="#d6bd0c"/>
<clipPath id="h10"><ellipse cx="376.40" cy="293.76" rx="8.46" ry="7.90"/></clipPath>
<ellipse cx="376.40" cy="293.76" rx="8.46" ry="7.90" fill="#17120a"/>
<ellipse cx="379.59" cy="297.06" rx="8.46" ry="7.90" fill="#9898b4" clip-path="url(#h10)"/>
<ellipse cx="416.5" cy="293.21601423487544" rx="12.397736030828517" ry="11.803323699421965" fill="#2b4224"/>
<ellipse cx="416.5" cy="293.21601423487544" rx="10.997736030828516" ry="10.403323699421964" fill="#d6bd0c"/>
<clipPath id="h11"><ellipse cx="416.50" cy="293.22" rx="8.41" ry="7.89"/></clipPath>
<ellipse cx="416.50" cy="293.22" rx="8.41" ry="7.89" fill="#17120a"/>
<ellipse cx="419.36" cy="296.52" rx="8.41" ry="7.89" fill="#9898b4" clip-path="url(#h11)"/>
<ellipse cx="456.3" cy="292.6777935943061" rx="12.347890173410404" ry="11.791820809248554" fill="#2b4224"/>
<ellipse cx="456.3" cy="292.6777935943061" rx="10.947890173410403" ry="10.391820809248554" fill="#d6bd0c"/>
<clipPath id="h12"><ellipse cx="456.30" cy="292.68" rx="8.37" ry="7.87"/></clipPath>
<ellipse cx="456.30" cy="292.68" rx="8.37" ry="7.87" fill="#17120a"/>
<ellipse cx="458.83" cy="295.98" rx="8.37" ry="7.87" fill="#9898b4" clip-path="url(#h12)"/>
<ellipse cx="496.2" cy="292.1382206405694" rx="12.297919075144508" ry="11.78028901734104" fill="#2b4224"/>
<ellipse cx="496.2" cy="292.1382206405694" rx="10.897919075144507" ry="10.38028901734104" fill="#d6bd0c"/>
<clipPath id="h13"><ellipse cx="496.20" cy="292.14" rx="8.32" ry="7.86"/></clipPath>
<ellipse cx="496.20" cy="292.14" rx="8.32" ry="7.86" fill="#17120a"/>
<ellipse cx="498.40" cy="295.44" rx="8.32" ry="7.86" fill="#9898b4" clip-path="url(#h13)"/>
<ellipse cx="536.0" cy="291.6" rx="12.248073217726397" ry="11.76878612716763" fill="#2b4224"/>
<ellipse cx="536.0" cy="291.6" rx="10.848073217726396" ry="10.36878612716763" fill="#d6bd0c"/>
<clipPath id="h14"><ellipse cx="536.00" cy="291.60" rx="8.28" ry="7.84"/></clipPath>
<ellipse cx="536.00" cy="291.60" rx="8.28" ry="7.84" fill="#17120a"/>
<ellipse cx="537.87" cy="294.90" rx="8.28" ry="7.84" fill="#9898b4" clip-path="url(#h14)"/>
<ellipse cx="575.3" cy="291.2957419354839" rx="12.198853564547205" ry="11.757427745664739" fill="#2b4224"/>
<ellipse cx="575.3" cy="291.2957419354839" rx="10.798853564547205" ry="10.357427745664738" fill="#d6bd0c"/>
<clipPath id="h15"><ellipse cx="575.30" cy="291.30" rx="8.23" ry="7.83"/></clipPath>
<ellipse cx="575.30" cy="291.30" rx="8.23" ry="7.83" fill="#17120a"/>
<ellipse cx="576.85" cy="294.60" rx="8.23" ry="7.83" fill="#9898b4" clip-path="url(#h15)"/>
<ellipse cx="614.4" cy="290.99303225806455" rx="12.149884393063584" ry="11.746127167630057" fill="#2b4224"/>
<ellipse cx="614.4" cy="290.99303225806455" rx="10.749884393063583" ry="10.346127167630057" fill="#d6bd0c"/>
<clipPath id="h16"><ellipse cx="614.40" cy="290.99" rx="8.18" ry="7.81"/></clipPath>
<ellipse cx="614.40" cy="290.99" rx="8.18" ry="7.81" fill="#17120a"/>
<ellipse cx="615.62" cy="294.29" rx="8.18" ry="7.81" fill="#9898b4" clip-path="url(#h16)"/>
<ellipse cx="653.4" cy="290.69109677419357" rx="12.101040462427745" ry="11.73485549132948" fill="#2b4224"/>
<ellipse cx="653.4" cy="290.69109677419357" rx="10.701040462427745" ry="10.33485549132948" fill="#d6bd0c"/>
<clipPath id="h17"><ellipse cx="653.40" cy="290.69" rx="8.14" ry="7.80"/></clipPath>
<ellipse cx="653.40" cy="290.69" rx="8.14" ry="7.80" fill="#17120a"/>
<ellipse cx="654.30" cy="293.99" rx="8.14" ry="7.80" fill="#9898b4" clip-path="url(#h17)"/>
<ellipse cx="692.3" cy="290.389935483871" rx="12.052321772639692" ry="11.723612716763006" fill="#2b4224"/>
<ellipse cx="692.3" cy="290.389935483871" rx="10.652321772639691" ry="10.323612716763005" fill="#d6bd0c"/>
<clipPath id="h18"><ellipse cx="692.30" cy="290.39" rx="8.09" ry="7.78"/></clipPath>
<ellipse cx="692.30" cy="290.39" rx="8.09" ry="7.78" fill="#17120a"/>
<ellipse cx="692.88" cy="293.69" rx="8.09" ry="7.78" fill="#9898b4" clip-path="url(#h18)"/>
<ellipse cx="731.1" cy="290.0895483870968" rx="12.003728323699422" ry="11.712398843930636" fill="#2b4224"/>
<ellipse cx="731.1" cy="290.0895483870968" rx="10.603728323699421" ry="10.312398843930636" fill="#d6bd0c"/>
<clipPath id="h19"><ellipse cx="731.10" cy="290.09" rx="8.05" ry="7.77"/></clipPath>
<ellipse cx="731.10" cy="290.09" rx="8.05" ry="7.77" fill="#17120a"/>
<ellipse cx="731.36" cy="293.39" rx="8.05" ry="7.77" fill="#9898b4" clip-path="url(#h19)"/>
<ellipse cx="769.8" cy="289.789935483871" rx="11.955260115606936" ry="11.70121387283237" fill="#2b4224"/>
<ellipse cx="769.8" cy="289.789935483871" rx="10.555260115606936" ry="10.301213872832369" fill="#d6bd0c"/>
<clipPath id="h20"><ellipse cx="769.80" cy="289.79" rx="8.00" ry="7.75"/></clipPath>
<ellipse cx="769.80" cy="289.79" rx="8.00" ry="7.75" fill="#17120a"/>
<ellipse cx="769.73" cy="293.09" rx="8.00" ry="7.75" fill="#9898b4" clip-path="url(#h20)"/>
<ellipse cx="807.7" cy="289.4965161290323" rx="11.907793834296724" ry="11.690260115606936" fill="#2b4224"/>
<ellipse cx="807.7" cy="289.4965161290323" rx="10.507793834296724" ry="10.290260115606936" fill="#d6bd0c"/>
<clipPath id="h21"><ellipse cx="807.70" cy="289.50" rx="7.96" ry="7.74"/></clipPath>
<ellipse cx="807.70" cy="289.50" rx="7.96" ry="7.74" fill="#17120a"/>
<ellipse cx="807.32" cy="292.80" rx="7.96" ry="7.74" fill="#9898b4" clip-path="url(#h21)"/>
<ellipse cx="846.3" cy="289.1976079734219" rx="11.859450867052022" ry="11.679104046242774" fill="#2b4224"/>
<ellipse cx="846.3" cy="289.1976079734219" rx="10.459450867052022" ry="10.279104046242773" fill="#d6bd0c"/>
<clipPath id="h22"><ellipse cx="846.30" cy="289.20" rx="7.92" ry="7.72"/></clipPath>
<ellipse cx="846.30" cy="289.20" rx="7.92" ry="7.72" fill="#17120a"/>
<ellipse cx="845.60" cy="292.50" rx="7.92" ry="7.72" fill="#9898b4" clip-path="url(#h22)"/>
<ellipse cx="884.2" cy="288.89541528239204" rx="11.811984585741811" ry="11.66815028901734" fill="#2b4224"/>
<ellipse cx="884.2" cy="288.89541528239204" rx="10.411984585741811" ry="10.26815028901734" fill="#d6bd0c"/>
<clipPath id="h23"><ellipse cx="884.20" cy="288.90" rx="7.87" ry="7.71"/></clipPath>
<ellipse cx="884.20" cy="288.90" rx="7.87" ry="7.71" fill="#17120a"/>
<ellipse cx="883.19" cy="292.20" rx="7.87" ry="7.71" fill="#9898b4" clip-path="url(#h23)"/>
<ellipse cx="922.2" cy="288.5924252491694" rx="11.764393063583814" ry="11.657167630057803" fill="#2b4224"/>
<ellipse cx="922.2" cy="288.5924252491694" rx="10.364393063583814" ry="10.257167630057802" fill="#d6bd0c"/>
<clipPath id="h24"><ellipse cx="922.20" cy="288.59" rx="7.83" ry="7.69"/></clipPath>
<ellipse cx="922.20" cy="288.59" rx="7.83" ry="7.69" fill="#17120a"/>
<ellipse cx="920.87" cy="291.89" rx="7.83" ry="7.69" fill="#9898b4" clip-path="url(#h24)"/>
<ellipse cx="960.1" cy="288.2902325581395" rx="11.716926782273603" ry="11.64621387283237" fill="#2b4224"/>
<ellipse cx="960.1" cy="288.2902325581395" rx="10.316926782273603" ry="10.246213872832369" fill="#d6bd0c"/>
<clipPath id="h25"><ellipse cx="960.10" cy="288.29" rx="7.78" ry="7.68"/></clipPath>
<ellipse cx="960.10" cy="288.29" rx="7.78" ry="7.68" fill="#17120a"/>
<ellipse cx="958.46" cy="291.59" rx="7.78" ry="7.68" fill="#9898b4" clip-path="url(#h25)"/>
<ellipse cx="997.7" cy="287.9904318936877" rx="11.669836223506744" ry="11.635346820809248" fill="#2b4224"/>
<ellipse cx="997.7" cy="287.9904318936877" rx="10.269836223506744" ry="10.235346820809248" fill="#d6bd0c"/>
<clipPath id="h26"><ellipse cx="997.70" cy="287.99" rx="7.74" ry="7.66"/></clipPath>
<ellipse cx="997.70" cy="287.99" rx="7.74" ry="7.66" fill="#17120a"/>
<ellipse cx="995.75" cy="291.29" rx="7.74" ry="7.66" fill="#9898b4" clip-path="url(#h26)"/>
<ellipse cx="1035.0" cy="287.69302325581396" rx="11.623121387283236" ry="11.62456647398844" fill="#2b4224"/>
<ellipse cx="1035.0" cy="287.69302325581396" rx="10.223121387283236" ry="10.224566473988439" fill="#d6bd0c"/>
<clipPath id="h27"><ellipse cx="1035.00" cy="287.69" rx="7.70" ry="7.65"/></clipPath>
<ellipse cx="1035.00" cy="287.69" rx="7.70" ry="7.65" fill="#17120a"/>
<ellipse cx="1032.74" cy="290.99" rx="7.70" ry="7.65" fill="#9898b4" clip-path="url(#h27)"/>
<ellipse cx="1072.6" cy="287.39322259136213" rx="11.576030828516377" ry="11.613699421965318" fill="#2b4224"/>
<ellipse cx="1072.6" cy="287.39322259136213" rx="10.176030828516376" ry="10.213699421965318" fill="#d6bd0c"/>
<clipPath id="h28"><ellipse cx="1072.60" cy="287.39" rx="7.65" ry="7.63"/></clipPath>
<ellipse cx="1072.60" cy="287.39" rx="7.65" ry="7.63" fill="#17120a"/>
<ellipse cx="1070.03" cy="290.69" rx="7.65" ry="7.63" fill="#9898b4" clip-path="url(#h28)"/>
<ellipse cx="1109.9" cy="287.0958139534884" rx="11.52931599229287" ry="11.602919075144507" fill="#2b4224"/>
<ellipse cx="1109.9" cy="287.0958139534884" rx="10.12931599229287" ry="10.202919075144507" fill="#d6bd0c"/>
<clipPath id="h29"><ellipse cx="1109.90" cy="287.10" rx="7.61" ry="7.62"/></clipPath>
<ellipse cx="1109.90" cy="287.10" rx="7.61" ry="7.62" fill="#17120a"/>
<ellipse cx="1107.02" cy="290.40" rx="7.61" ry="7.62" fill="#9898b4" clip-path="url(#h29)"/>
<ellipse cx="1146.9" cy="286.8007973421927" rx="11.482976878612716" ry="11.59222543352601" fill="#2b4224"/>
<ellipse cx="1146.9" cy="286.8007973421927" rx="10.082976878612715" ry="10.19222543352601" fill="#d6bd0c"/>
<clipPath id="h30"><ellipse cx="1146.90" cy="286.80" rx="7.57" ry="7.61"/></clipPath>
<ellipse cx="1146.90" cy="286.80" rx="7.57" ry="7.61" fill="#17120a"/>
<ellipse cx="1143.71" cy="290.10" rx="7.57" ry="7.61" fill="#9898b4" clip-path="url(#h30)"/>
<ellipse cx="1183.5" cy="286.439010989011" rx="11.4371387283237" ry="11.58164739884393" fill="#2b4224"/>
<ellipse cx="1183.5" cy="286.439010989011" rx="10.037138728323699" ry="10.18164739884393" fill="#d6bd0c"/>
<clipPath id="h31"><ellipse cx="1183.50" cy="286.44" rx="7.53" ry="7.59"/></clipPath>
<ellipse cx="1183.50" cy="286.44" rx="7.53" ry="7.59" fill="#17120a"/>
<ellipse cx="1180.01" cy="289.74" rx="7.53" ry="7.59" fill="#9898b4" clip-path="url(#h31)"/>
<ellipse cx="1220.4" cy="286.0740659340659" rx="11.39092485549133" ry="11.570982658959537" fill="#2b4224"/>
<ellipse cx="1220.4" cy="286.0740659340659" rx="9.990924855491329" ry="10.170982658959536" fill="#d6bd0c"/>
<clipPath id="h32"><ellipse cx="1220.40" cy="286.07" rx="7.48" ry="7.58"/></clipPath>
<ellipse cx="1220.40" cy="286.07" rx="7.48" ry="7.58" fill="#17120a"/>
<ellipse cx="1216.60" cy="289.37" rx="7.48" ry="7.58" fill="#9898b4" clip-path="url(#h32)"/>
<ellipse cx="1256.6" cy="285.71604395604396" rx="11.34558766859345" ry="11.560520231213873" fill="#2b4224"/>
<ellipse cx="1256.6" cy="285.71604395604396" rx="9.945587668593449" ry="10.160520231213873" fill="#d6bd0c"/>
<clipPath id="h33"><ellipse cx="1256.60" cy="285.72" rx="7.44" ry="7.56"/></clipPath>
<ellipse cx="1256.60" cy="285.72" rx="7.44" ry="7.56" fill="#17120a"/>
<ellipse cx="1252.50" cy="289.02" rx="7.44" ry="7.56" fill="#9898b4" clip-path="url(#h33)"/>
<ellipse cx="1292.8" cy="285.35802197802195" rx="11.300250481695569" ry="11.550057803468208" fill="#2b4224"/>
<ellipse cx="1292.8" cy="285.35802197802195" rx="9.900250481695569" ry="10.150057803468208" fill="#d6bd0c"/>
<clipPath id="h34"><ellipse cx="1292.80" cy="285.36" rx="7.40" ry="7.55"/></clipPath>
<ellipse cx="1292.80" cy="285.36" rx="7.40" ry="7.55" fill="#17120a"/>
<ellipse cx="1288.40" cy="288.66" rx="7.40" ry="7.55" fill="#9898b4" clip-path="url(#h34)"/>
<ellipse cx="1329.3" cy="284.99703296703296" rx="11.254537572254335" ry="11.539508670520231" fill="#2b4224"/>
<ellipse cx="1329.3" cy="284.99703296703296" rx="9.854537572254335" ry="10.13950867052023" fill="#d6bd0c"/>
<clipPath id="h35"><ellipse cx="1329.30" cy="285.00" rx="7.36" ry="7.54"/></clipPath>
<ellipse cx="1329.30" cy="285.00" rx="7.36" ry="7.54" fill="#17120a"/>
<ellipse cx="1324.60" cy="288.30" rx="7.36" ry="7.54" fill="#9898b4" clip-path="url(#h35)"/>
<rect x="196.20000000000002" y="400.8" width="24.4" height="23.599999999999998" fill="#2b4224"/>
<rect x="197.4" y="402.0" width="22.0" height="21.2" fill="#d6bd0c"/>
<clipPath id="h36"><ellipse cx="208.40" cy="412.60" rx="8.65" ry="7.97"/></clipPath>
<ellipse cx="208.40" cy="412.60" rx="8.65" ry="7.97" fill="#17120a"/>
<ellipse cx="212.99" cy="415.90" rx="8.65" ry="7.97" fill="#9898b4" clip-path="url(#h36)"/>
<ellipse cx="249.9" cy="411.8017543859649" rx="12.606387283236995" ry="11.851473988439306" fill="#2b4224"/>
<ellipse cx="249.9" cy="411.8017543859649" rx="11.206387283236994" ry="10.451473988439306" fill="#d6bd0c"/>
<clipPath id="h37"><ellipse cx="249.90" cy="411.80" rx="8.61" ry="7.95"/></clipPath>
<ellipse cx="249.90" cy="411.80" rx="8.61" ry="7.95" fill="#17120a"/>
<ellipse cx="254.14" cy="415.10" rx="8.61" ry="7.95" fill="#9898b4" clip-path="url(#h37)"/>
<ellipse cx="291" cy="411.080701754386" rx="12.554913294797688" ry="11.839595375722544" fill="#2b4224"/>
<ellipse cx="291" cy="411.080701754386" rx="11.154913294797687" ry="10.439595375722543" fill="#d6bd0c"/>
<clipPath id="h38"><ellipse cx="291.00" cy="411.08" rx="8.56" ry="7.94"/></clipPath>
<ellipse cx="291.00" cy="411.08" rx="8.56" ry="7.94" fill="#17120a"/>
<ellipse cx="294.90" cy="414.38" rx="8.56" ry="7.94" fill="#9898b4" clip-path="url(#h38)"/>
<ellipse cx="332.3" cy="410.3561403508772" rx="12.503188824662812" ry="11.827658959537573" fill="#2b4224"/>
<ellipse cx="332.3" cy="410.3561403508772" rx="11.103188824662812" ry="10.427658959537572" fill="#d6bd0c"/>
<clipPath id="h39"><ellipse cx="332.30" cy="410.36" rx="8.51" ry="7.92"/></clipPath>
<ellipse cx="332.30" cy="410.36" rx="8.51" ry="7.92" fill="#17120a"/>
<ellipse cx="335.86" cy="413.66" rx="8.51" ry="7.92" fill="#9898b4" clip-path="url(#h39)"/>
<ellipse cx="373.1" cy="409.640350877193" rx="12.452090558766859" ry="11.81586705202312" fill="#2b4224"/>
<ellipse cx="373.1" cy="409.640350877193" rx="11.052090558766858" ry="10.41586705202312" fill="#d6bd0c"/>
<clipPath id="h40"><ellipse cx="373.10" cy="409.64" rx="8.46" ry="7.90"/></clipPath>
<ellipse cx="373.10" cy="409.64" rx="8.46" ry="7.90" fill="#17120a"/>
<ellipse cx="376.32" cy="412.94" rx="8.46" ry="7.90" fill="#9898b4" clip-path="url(#h40)"/>
<ellipse cx="413.8" cy="408.9263157894737" rx="12.40111753371869" ry="11.804104046242774" fill="#2b4224"/>
<ellipse cx="413.8" cy="408.9263157894737" rx="11.00111753371869" ry="10.404104046242773" fill="#d6bd0c"/>
<clipPath id="h41"><ellipse cx="413.80" cy="408.93" rx="8.42" ry="7.89"/></clipPath>
<ellipse cx="413.80" cy="408.93" rx="8.42" ry="7.89" fill="#17120a"/>
<ellipse cx="416.68" cy="412.23" rx="8.42" ry="7.89" fill="#9898b4" clip-path="url(#h41)"/>
<ellipse cx="454.4" cy="408.2140350877193" rx="12.350269749518304" ry="11.792369942196531" fill="#2b4224"/>
<ellipse cx="454.4" cy="408.2140350877193" rx="10.950269749518304" ry="10.392369942196531" fill="#d6bd0c"/>
<clipPath id="h42"><ellipse cx="454.40" cy="408.21" rx="8.37" ry="7.87"/></clipPath>
<ellipse cx="454.40" cy="408.21" rx="8.37" ry="7.87" fill="#17120a"/>
<ellipse cx="456.95" cy="411.51" rx="8.37" ry="7.87" fill="#9898b4" clip-path="url(#h42)"/>
<ellipse cx="494.5" cy="407.5105263157895" rx="12.30004816955684" ry="11.780780346820809" fill="#2b4224"/>
<ellipse cx="494.5" cy="407.5105263157895" rx="10.90004816955684" ry="10.380780346820808" fill="#d6bd0c"/>
<clipPath id="h43"><ellipse cx="494.50" cy="407.51" rx="8.32" ry="7.86"/></clipPath>
<ellipse cx="494.50" cy="407.51" rx="8.32" ry="7.86" fill="#17120a"/>
<ellipse cx="496.72" cy="410.81" rx="8.32" ry="7.86" fill="#9898b4" clip-path="url(#h43)"/>
<ellipse cx="535" cy="406.8" rx="12.24932562620424" ry="11.76907514450867" fill="#2b4224"/>
<ellipse cx="535" cy="406.8" rx="10.849325626204239" ry="10.36907514450867" fill="#d6bd0c"/>
<clipPath id="h44"><ellipse cx="535.00" cy="406.80" rx="8.28" ry="7.84"/></clipPath>
<ellipse cx="535.00" cy="406.80" rx="8.28" ry="7.84" fill="#17120a"/>
<ellipse cx="536.88" cy="410.10" rx="8.28" ry="7.84" fill="#9898b4" clip-path="url(#h44)"/>
<ellipse cx="574.6" cy="406.3248" rx="12.199730250481695" ry="11.757630057803468" fill="#2b4224"/>
<ellipse cx="574.6" cy="406.3248" rx="10.799730250481694" ry="10.357630057803467" fill="#d6bd0c"/>
<clipPath id="h45"><ellipse cx="574.60" cy="406.32" rx="8.23" ry="7.83"/></clipPath>
<ellipse cx="574.60" cy="406.32" rx="8.23" ry="7.83" fill="#17120a"/>
<ellipse cx="576.15" cy="409.62" rx="8.23" ry="7.83" fill="#9898b4" clip-path="url(#h45)"/>
<ellipse cx="614.2" cy="405.8496" rx="12.150134874759152" ry="11.746184971098266" fill="#2b4224"/>
<ellipse cx="614.2" cy="405.8496" rx="10.750134874759151" ry="10.346184971098266" fill="#d6bd0c"/>
<clipPath id="h46"><ellipse cx="614.20" cy="405.85" rx="8.18" ry="7.81"/></clipPath>
<ellipse cx="614.20" cy="405.85" rx="8.18" ry="7.81" fill="#17120a"/>
<ellipse cx="615.42" cy="409.15" rx="8.18" ry="7.81" fill="#9898b4" clip-path="url(#h46)"/>
<ellipse cx="654.1" cy="405.37080000000003" rx="12.100163776493256" ry="11.734653179190751" fill="#2b4224"/>
<ellipse cx="654.1" cy="405.37080000000003" rx="10.700163776493255" ry="10.33465317919075" fill="#d6bd0c"/>
<clipPath id="h47"><ellipse cx="654.10" cy="405.37" rx="8.14" ry="7.80"/></clipPath>
<ellipse cx="654.10" cy="405.37" rx="8.14" ry="7.80" fill="#17120a"/>
<ellipse cx="654.99" cy="408.67" rx="8.14" ry="7.80" fill="#9898b4" clip-path="url(#h47)"/>
<ellipse cx="693.3" cy="404.9004" rx="12.05106936416185" ry="11.723323699421965" fill="#2b4224"/>
<ellipse cx="693.3" cy="404.9004" rx="10.651069364161849" ry="10.323323699421964" fill="#d6bd0c"/>
<clipPath id="h48"><ellipse cx="693.30" cy="404.90" rx="8.09" ry="7.78"/></clipPath>
<ellipse cx="693.30" cy="404.90" rx="8.09" ry="7.78" fill="#17120a"/>
<ellipse cx="693.87" cy="408.20" rx="8.09" ry="7.78" fill="#9898b4" clip-path="url(#h48)"/>
<ellipse cx="732.7" cy="404.4276" rx="12.001724470134874" ry="11.71193641618497" fill="#2b4224"/>
<ellipse cx="732.7" cy="404.4276" rx="10.601724470134874" ry="10.31193641618497" fill="#d6bd0c"/>
<clipPath id="h49"><ellipse cx="732.70" cy="404.43" rx="8.05" ry="7.77"/></clipPath>
<ellipse cx="732.70" cy="404.43" rx="8.05" ry="7.77" fill="#17120a"/>
<ellipse cx="732.94" cy="407.73" rx="8.05" ry="7.77" fill="#9898b4" clip-path="url(#h49)"/>
<ellipse cx="771.7" cy="403.9596" rx="11.952880539499036" ry="11.700664739884393" fill="#2b4224"/>
<ellipse cx="771.7" cy="403.9596" rx="10.552880539499036" ry="10.300664739884393" fill="#d6bd0c"/>
<clipPath id="h50"><ellipse cx="771.70" cy="403.96" rx="8.00" ry="7.75"/></clipPath>
<ellipse cx="771.70" cy="403.96" rx="8.00" ry="7.75" fill="#17120a"/>
<ellipse cx="771.62" cy="407.26" rx="8.00" ry="7.75" fill="#9898b4" clip-path="url(#h50)"/>
<ellipse cx="810.6" cy="403.482" rx="11.904161849710983" ry="11.68942196531792" fill="#2b4224"/>
<ellipse cx="810.6" cy="403.482" rx="10.504161849710982" ry="10.289421965317919" fill="#d6bd0c"/>
<clipPath id="h51"><ellipse cx="810.60" cy="403.48" rx="7.96" ry="7.74"/></clipPath>
<ellipse cx="810.60" cy="403.48" rx="7.96" ry="7.74" fill="#17120a"/>
<ellipse cx="810.20" cy="406.78" rx="7.96" ry="7.74" fill="#9898b4" clip-path="url(#h51)"/>
<ellipse cx="850.1" cy="402.29835526315793" rx="11.854691714836223" ry="11.67800578034682" fill="#2b4224"/>
<ellipse cx="850.1" cy="402.29835526315793" rx="10.454691714836223" ry="10.27800578034682" fill="#d6bd0c"/>
<clipPath id="h52"><ellipse cx="850.10" cy="402.30" rx="7.91" ry="7.72"/></clipPath>
<ellipse cx="850.10" cy="402.30" rx="7.91" ry="7.72" fill="#17120a"/>
<ellipse cx="849.37" cy="405.60" rx="7.91" ry="7.72" fill="#9898b4" clip-path="url(#h52)"/>
<ellipse cx="888.4" cy="401.6684210526316" rx="11.806724470134874" ry="11.66693641618497" fill="#2b4224"/>
<ellipse cx="888.4" cy="401.6684210526316" rx="10.406724470134874" ry="10.26693641618497" fill="#d6bd0c"/>
<clipPath id="h53"><ellipse cx="888.40" cy="401.67" rx="7.87" ry="7.71"/></clipPath>
<ellipse cx="888.40" cy="401.67" rx="7.87" ry="7.71" fill="#17120a"/>
<ellipse cx="887.35" cy="404.97" rx="7.87" ry="7.71" fill="#9898b4" clip-path="url(#h53)"/>
<ellipse cx="926.9" cy="401.03519736842105" rx="11.758506743737957" ry="11.655809248554913" fill="#2b4224"/>
<ellipse cx="926.9" cy="401.03519736842105" rx="10.358506743737957" ry="10.255809248554913" fill="#d6bd0c"/>
<clipPath id="h54"><ellipse cx="926.90" cy="401.04" rx="7.82" ry="7.69"/></clipPath>
<ellipse cx="926.90" cy="401.04" rx="7.82" ry="7.69" fill="#17120a"/>
<ellipse cx="925.53" cy="404.34" rx="7.82" ry="7.69" fill="#9898b4" clip-path="url(#h54)"/>
<ellipse cx="965.2" cy="400.40526315789475" rx="11.710539499036608" ry="11.644739884393063" fill="#2b4224"/>
<ellipse cx="965.2" cy="400.40526315789475" rx="10.310539499036608" ry="10.244739884393063" fill="#d6bd0c"/>
<clipPath id="h55"><ellipse cx="965.20" cy="400.41" rx="7.78" ry="7.68"/></clipPath>
<ellipse cx="965.20" cy="400.41" rx="7.78" ry="7.68" fill="#17120a"/>
<ellipse cx="963.52" cy="403.71" rx="7.78" ry="7.68" fill="#9898b4" clip-path="url(#h55)"/>
<ellipse cx="1003.3" cy="399.77861842105267" rx="11.662822736030828" ry="11.633728323699422" fill="#2b4224"/>
<ellipse cx="1003.3" cy="399.77861842105267" rx="10.262822736030827" ry="10.233728323699422" fill="#d6bd0c"/>
<clipPath id="h56"><ellipse cx="1003.30" cy="399.78" rx="7.73" ry="7.66"/></clipPath>
<ellipse cx="1003.30" cy="399.78" rx="7.73" ry="7.66" fill="#17120a"/>
<ellipse cx="1001.30" cy="403.08" rx="7.73" ry="7.66" fill="#9898b4" clip-path="url(#h56)"/>
<ellipse cx="1041.6" cy="399.1486842105263" rx="11.614855491329479" ry="11.622658959537572" fill="#2b4224"/>
<ellipse cx="1041.6" cy="399.1486842105263" rx="10.214855491329478" ry="10.222658959537572" fill="#d6bd0c"/>
<clipPath id="h57"><ellipse cx="1041.60" cy="399.15" rx="7.69" ry="7.65"/></clipPath>
<ellipse cx="1041.60" cy="399.15" rx="7.69" ry="7.65" fill="#17120a"/>
<ellipse cx="1039.28" cy="402.45" rx="7.69" ry="7.65" fill="#9898b4" clip-path="url(#h57)"/>
<ellipse cx="1079.4" cy="398.52697368421053" rx="11.567514450867051" ry="11.611734104046242" fill="#2b4224"/>
<ellipse cx="1079.4" cy="398.52697368421053" rx="10.167514450867051" ry="10.211734104046242" fill="#d6bd0c"/>
<clipPath id="h58"><ellipse cx="1079.40" cy="398.53" rx="7.65" ry="7.63"/></clipPath>
<ellipse cx="1079.40" cy="398.53" rx="7.65" ry="7.63" fill="#17120a"/>
<ellipse cx="1076.77" cy="401.83" rx="7.65" ry="7.63" fill="#9898b4" clip-path="url(#h58)"/>
<ellipse cx="1117.3" cy="397.90361842105267" rx="11.520048169556839" ry="11.600780346820809" fill="#2b4224"/>
<ellipse cx="1117.3" cy="397.90361842105267" rx="10.120048169556839" ry="10.200780346820808" fill="#d6bd0c"/>
<clipPath id="h59"><ellipse cx="1117.30" cy="397.90" rx="7.60" ry="7.62"/></clipPath>
<ellipse cx="1117.30" cy="397.90" rx="7.60" ry="7.62" fill="#17120a"/>
<ellipse cx="1114.36" cy="401.20" rx="7.60" ry="7.62" fill="#9898b4" clip-path="url(#h59)"/>
<ellipse cx="1154.5" cy="397.2927419354839" rx="11.473458574181118" ry="11.590028901734104" fill="#2b4224"/>
<ellipse cx="1154.5" cy="397.2927419354839" rx="10.073458574181117" ry="10.190028901734104" fill="#d6bd0c"/>
<clipPath id="h60"><ellipse cx="1154.50" cy="397.29" rx="7.56" ry="7.60"/></clipPath>
<ellipse cx="1154.50" cy="397.29" rx="7.56" ry="7.60" fill="#17120a"/>
<ellipse cx="1151.25" cy="400.59" rx="7.56" ry="7.60" fill="#9898b4" clip-path="url(#h60)"/>
<ellipse cx="1191.9" cy="396.7498387096774" rx="11.426618497109827" ry="11.57921965317919" fill="#2b4224"/>
<ellipse cx="1191.9" cy="396.7498387096774" rx="10.026618497109826" ry="10.17921965317919" fill="#d6bd0c"/>
<clipPath id="h61"><ellipse cx="1191.90" cy="396.75" rx="7.52" ry="7.59"/></clipPath>
<ellipse cx="1191.90" cy="396.75" rx="7.52" ry="7.59" fill="#17120a"/>
<ellipse cx="1188.34" cy="400.05" rx="7.52" ry="7.59" fill="#9898b4" clip-path="url(#h61)"/>
<ellipse cx="1229.1" cy="396.20983870967746" rx="11.380028901734104" ry="11.568468208092485" fill="#2b4224"/>
<ellipse cx="1229.1" cy="396.20983870967746" rx="9.980028901734103" ry="10.168468208092484" fill="#d6bd0c"/>
<clipPath id="h62"><ellipse cx="1229.10" cy="396.21" rx="7.47" ry="7.57"/></clipPath>
<ellipse cx="1229.10" cy="396.21" rx="7.47" ry="7.57" fill="#17120a"/>
<ellipse cx="1225.23" cy="399.51" rx="7.47" ry="7.57" fill="#9898b4" clip-path="url(#h62)"/>
<ellipse cx="1266.3" cy="395.66983870967744" rx="11.33343930635838" ry="11.55771676300578" fill="#2b4224"/>
<ellipse cx="1266.3" cy="395.66983870967744" rx="9.93343930635838" ry="10.15771676300578" fill="#d6bd0c"/>
<clipPath id="h63"><ellipse cx="1266.30" cy="395.67" rx="7.43" ry="7.56"/></clipPath>
<ellipse cx="1266.30" cy="395.67" rx="7.43" ry="7.56" fill="#17120a"/>
<ellipse cx="1262.12" cy="398.97" rx="7.43" ry="7.56" fill="#9898b4" clip-path="url(#h63)"/>
<ellipse cx="1303.2" cy="395.1341935483871" rx="11.287225433526011" ry="11.547052023121386" fill="#2b4224"/>
<ellipse cx="1303.2" cy="395.1341935483871" rx="9.88722543352601" ry="10.147052023121386" fill="#d6bd0c"/>
<clipPath id="h64"><ellipse cx="1303.20" cy="395.13" rx="7.39" ry="7.55"/></clipPath>
<ellipse cx="1303.20" cy="395.13" rx="7.39" ry="7.55" fill="#17120a"/>
<ellipse cx="1298.72" cy="398.43" rx="7.39" ry="7.55" fill="#9898b4" clip-path="url(#h64)"/>
<ellipse cx="1339.7" cy="394.6043548387097" rx="11.241512524084778" ry="11.53650289017341" fill="#2b4224"/>
<ellipse cx="1339.7" cy="394.6043548387097" rx="9.841512524084777" ry="10.136502890173409" fill="#d6bd0c"/>
<clipPath id="h65"><ellipse cx="1339.70" cy="394.60" rx="7.35" ry="7.53"/></clipPath>
<ellipse cx="1339.70" cy="394.60" rx="7.35" ry="7.53" fill="#17120a"/>
<ellipse cx="1334.91" cy="397.90" rx="7.35" ry="7.53" fill="#9898b4" clip-path="url(#h65)"/>
<path d="M82.3,104 L74.0,104 M77.4,101.1 L73.8,104 L77.4,106.9" fill="none" stroke="#e8e8e0" stroke-width="1.6" stroke-linejoin="round" stroke-linecap="round"/>
<path d="M95.0,104 L86.7,104 M90.10000000000001,101.1 L86.5,104 L90.10000000000001,106.9" fill="none" stroke="#e8e8e0" stroke-width="1.6" stroke-linejoin="round" stroke-linecap="round"/>
<path d="M472.7,104 L464.3,104 M467.7,101.1 L464.1,104 L467.7,106.9" fill="none" stroke="#e8e8e0" stroke-width="1.6" stroke-linejoin="round" stroke-linecap="round"/>
<path d="M484.7,104 L476.40000000000003,104 M479.8,101.1 L476.20000000000005,104 L479.8,106.9" fill="none" stroke="#e8e8e0" stroke-width="1.6" stroke-linejoin="round" stroke-linecap="round"/>
<path d="M81.1,119.3 L72.7,119.3 M76.10000000000001,116.39999999999999 L72.5,119.3 L76.10000000000001,122.2" fill="none" stroke="#e8e8e0" stroke-width="1.6" stroke-linejoin="round" stroke-linecap="round"/>
<path d="M93.8,119.3 L85.5,119.3 M88.9,116.39999999999999 L85.3,119.3 L88.9,122.2" fill="none" stroke="#e8e8e0" stroke-width="1.6" stroke-linejoin="round" stroke-linecap="round"/>
<path d="M483.3,119.3 L474.2,119.3 M477.59999999999997,116.39999999999999 L474.0,119.3 L477.59999999999997,122.2" fill="none" stroke="#e8e8e0" stroke-width="1.6" stroke-linejoin="round" stroke-linecap="round"/>
<path d="M494.6,119.3 L486.3,119.3 M489.7,116.39999999999999 L486.1,119.3 L489.7,122.2" fill="none" stroke="#e8e8e0" stroke-width="1.6" stroke-linejoin="round" stroke-linecap="round"/>
<g transform="translate(105.5 107.9) rotate(0) scale(1.04 1)"><text x="0" y="0" font-size="14.46" textLength="334.81" lengthAdjust="spacing">Left side of the F AT/122/Unsaver keyboards</text></g>
<g transform="translate(104.9 123) rotate(0) scale(1.04 1)"><text x="0" y="0" font-size="14.46" textLength="345.48" lengthAdjust="spacing">Right side ot the 3178 ‘blue switch’ keyboards</text></g>
<g transform="translate(71 138.6) rotate(0) scale(1.04 1)"><text x="0" y="0" font-size="14.46" textLength="397.79" lengthAdjust="spacing">(when looking at the keycaps as if you were using it)</text></g>
<g transform="translate(211.0 251.3) rotate(90) scale(0.8 1)"><text x="0" y="0" font-size="15.08" textLength="34.13" lengthAdjust="spacing">GND</text></g>
<g transform="translate(249.9 250) rotate(90) scale(0.8 1)"><text x="0" y="0" font-size="15.08" textLength="35.75" lengthAdjust="spacing">GND</text></g>
<g transform="translate(608.8 248.2) rotate(90) scale(0.8 1)"><text x="0" y="0" font-size="15.08" textLength="32.88" lengthAdjust="spacing">GND</text></g>
<g transform="translate(648.2 248.2) rotate(90) scale(0.8 1)"><text x="0" y="0" font-size="15.08" textLength="32.88" lengthAdjust="spacing">GND</text></g>
<g transform="translate(1285.3 242.3) rotate(90) scale(0.8 1)"><text x="0" y="0" font-size="15.08" textLength="32.37" lengthAdjust="spacing">GND</text></g>
<g transform="translate(1321.4 242.3) rotate(90) scale(0.8 1)"><text x="0" y="0" font-size="15.08" textLength="32.37" lengthAdjust="spacing">GND</text></g>
<g transform="translate(406.7 269.4) rotate(-0.5) scale(0.88 1)"><text x="0" y="0" font-size="14.77" textLength="44.89" lengthAdjust="spacing">ROWS</text></g>
<g transform="translate(950.6 262.3) rotate(-0.5) scale(0.88 1)"><text x="0" y="0" font-size="14.77" textLength="73.52" lengthAdjust="spacing">COLUMNS</text></g>
<path d="M338,265.5 L400,265 M452,264.5 L514,264" stroke="#e8e8e0" stroke-width="1.5" stroke-dasharray="9 3.2"/>
<path d="M837.2,258 L944,257.2 M1021,256.8 L1125.7,256" stroke="#e8e8e0" stroke-width="1.5" stroke-dasharray="9 3.2"/>
<g transform="translate(643.7 319.1) rotate(-0.45) scale(1.04 1)"><text x="0" y="0" font-size="14.46" textLength="274.62" lengthAdjust="spacing">Pins for: F AT/122/Unsaver keyboards</text></g>
<path d="M604.2,319.6 L604.2,311.1 M601.6,314.3 L604.2,310.90000000000003 L606.8000000000001,314.3" fill="none" stroke="#e8e8e0" stroke-width="1.5" stroke-linejoin="round" stroke-linecap="round"/>
<path d="M616.6,319.6 L616.6,311.1 M614.0,314.3 L616.6,310.90000000000003 L619.2,314.3" fill="none" stroke="#e8e8e0" stroke-width="1.5" stroke-linejoin="round" stroke-linecap="round"/>
<path d="M628.9,319.6 L628.9,311.1 M626.3,314.3 L628.9,310.90000000000003 L631.5,314.3" fill="none" stroke="#e8e8e0" stroke-width="1.5" stroke-linejoin="round" stroke-linecap="round"/>
<path d="M943.5,316.6 L943.5,308.40000000000003 M940.9,311.6 L943.5,308.20000000000005 L946.1,311.6" fill="none" stroke="#e8e8e0" stroke-width="1.5" stroke-linejoin="round" stroke-linecap="round"/>
<path d="M955.2,316.6 L955.2,308.40000000000003 M952.6,311.6 L955.2,308.20000000000005 L957.8000000000001,311.6" fill="none" stroke="#e8e8e0" stroke-width="1.5" stroke-linejoin="round" stroke-linecap="round"/>
<path d="M967.4,316.6 L967.4,308.40000000000003 M964.8,311.6 L967.4,308.20000000000005 L970.0,311.6" fill="none" stroke="#e8e8e0" stroke-width="1.5" stroke-linejoin="round" stroke-linecap="round"/>
<g transform="translate(206.5 337.6) rotate(0) scale(0.88 1)"><text x="0" y="0" font-size="15.08" textLength="21.02" lengthAdjust="spacing">H3</text></g>
<g transform="translate(239.5 366.4) rotate(0) scale(0.88 1)"><text x="0" y="0" font-size="15.08" textLength="115.91" lengthAdjust="spacing">CHASSIS GND</text></g>
<g transform="translate(365 385.4) rotate(-0.8) scale(0.88 1)"><text x="0" y="0" font-size="15.08" textLength="45.80" lengthAdjust="spacing">ROWS</text></g>
<path d="M294,382 L354.4,381.2 M415.5,380 L475.8,379.3" stroke="#e8e8e0" stroke-width="1.5" stroke-dasharray="9 3.2"/>
<g transform="translate(758.3 378.4) rotate(-0.8) scale(0.88 1)"><text x="0" y="0" font-size="15.08" textLength="76.36" lengthAdjust="spacing">COLUMNS</text></g>
<path d="M641.4,374 L752,372.8 M832,372 L940.2,370.5" stroke="#e8e8e0" stroke-width="1.5" stroke-dasharray="9 3.2"/>
<g transform="translate(530.1 365.6) rotate(90) scale(0.8 1)"><text x="0" y="0" font-size="15.08" textLength="33.37" lengthAdjust="spacing">GND</text></g>
<g transform="translate(1035.1 359.0) rotate(90) scale(0.8 1)"><text x="0" y="0" font-size="15.08" textLength="33.25" lengthAdjust="spacing">GND</text></g>
<g transform="translate(1072.9 358.3659845689366) rotate(90) scale(0.8 1)"><text x="0" y="0" font-size="15.08" textLength="33.15" lengthAdjust="spacing">GND</text></g>
<g transform="translate(1110.8 357.73029184837304) rotate(90) scale(0.8 1)"><text x="0" y="0" font-size="15.08" textLength="33.06" lengthAdjust="spacing">GND</text></g>
<g transform="translate(1148.0 357.10634015431066) rotate(90) scale(0.8 1)"><text x="0" y="0" font-size="15.08" textLength="32.97" lengthAdjust="spacing">GND</text></g>
<g transform="translate(1185.4 356.4790338812479) rotate(90) scale(0.8 1)"><text x="0" y="0" font-size="15.08" textLength="32.87" lengthAdjust="spacing">GND</text></g>
<g transform="translate(1222.6 355.85508218718553) rotate(90) scale(0.8 1)"><text x="0" y="0" font-size="15.08" textLength="32.78" lengthAdjust="spacing">GND</text></g>
<g transform="translate(1259.8 355.2311304931231) rotate(90) scale(0.8 1)"><text x="0" y="0" font-size="15.08" textLength="32.68" lengthAdjust="spacing">GND</text></g>
<g transform="translate(1296.7 354.6122106675612) rotate(90) scale(0.8 1)"><text x="0" y="0" font-size="15.08" textLength="32.59" lengthAdjust="spacing">GND</text></g>
<g transform="translate(1333.2 354.0) rotate(90) scale(0.8 1)"><text x="0" y="0" font-size="15.08" textLength="32.50" lengthAdjust="spacing">GND</text></g>
<g transform="translate(646.5 434.6) rotate(-0.8) scale(1.04 1)"><text x="0" y="0" font-size="14.46" textLength="316.73" lengthAdjust="spacing">Pins for: IBM 3178 &quot;blue switch&quot; keyboards</text></g>
<path d="M606.9,435.8 L606.9,427.40000000000003 M604.3,430.6 L606.9,427.20000000000005 L609.5,430.6" fill="none" stroke="#e8e8e0" stroke-width="1.5" stroke-linejoin="round" stroke-linecap="round"/>
<path d="M619.6,435.8 L619.6,427.40000000000003 M617.0,430.6 L619.6,427.20000000000005 L622.2,430.6" fill="none" stroke="#e8e8e0" stroke-width="1.5" stroke-linejoin="round" stroke-linecap="round"/>
<path d="M631.8,435.8 L631.8,427.40000000000003 M629.1999999999999,430.6 L631.8,427.20000000000005 L634.4,430.6" fill="none" stroke="#e8e8e0" stroke-width="1.5" stroke-linejoin="round" stroke-linecap="round"/>
<path d="M989.7,429.4 L989.7,421.0 M987.1,424.2 L989.7,420.8 L992.3000000000001,424.2" fill="none" stroke="#e8e8e0" stroke-width="1.5" stroke-linejoin="round" stroke-linecap="round"/>
<path d="M1002.1,429.4 L1002.1,421.0 M999.5,424.2 L1002.1,420.8 L1004.7,424.2" fill="none" stroke="#e8e8e0" stroke-width="1.5" stroke-linejoin="round" stroke-linecap="round"/>
<path d="M1014.2,429.4 L1014.2,421.0 M1011.6,424.2 L1014.2,420.8 L1016.8000000000001,424.2" fill="none" stroke="#e8e8e0" stroke-width="1.5" stroke-linejoin="round" stroke-linecap="round"/>
<circle cx="214" cy="363.5" r="20.6" fill="none" stroke="#e8e8e0" stroke-width="2.9"/>
<circle cx="214" cy="363.5" r="17.5" fill="#2b4224"/>
<circle cx="214" cy="363.5" r="15.8" fill="#d6bd0c"/>
<clipPath id="h66"><ellipse cx="214.00" cy="363.50" rx="8.00" ry="8.00"/></clipPath>
<ellipse cx="214.00" cy="363.50" rx="8.00" ry="8.00" fill="#17120a"/>
<ellipse cx="218.54" cy="366.80" rx="8.00" ry="8.00" fill="#9898b4" clip-path="url(#h66)"/>
<path d="M1242.5,57 Q1243,51 1248,51 L1258,51 L1258,89.5 L1242.5,89.5 Z" fill="#2f4a24"/>
<path d="M1242.5,57 L1248,53 L1248,89.5 L1242.5,89.5 Z" fill="#3a3015"/>
<path d="M1262,196 L1575,193 L1578,205 L1268,210 Z" fill="#0c0a0a"/>
<path d="M1252.8,77.5 L1265.5,210 L1540,206" fill="none" stroke="#e8e8e0" stroke-width="1.5"/>
<path d="M1250.5,53 L1259.6,53 L1262,78 L1253,78 Z" fill="#0a0a0a"/>
<path d="M1262.3,185 L1274,185 L1276,209 L1266,209 Z" fill="#0a0a0a"/>
<path d="M1253.5,47 L1259.2,40.8 L1274.5,195.5 L1569,192.5 L1575,197.6 L1568,201.8 L1268,205 L1255.5,78 Z" fill="#120506"/>
<path d="M1259.2,40.8 L1556.2,40.8 L1575,197.6 L1272.5,199 Z" fill="#c55264"/>
<path d="M1274.5,45.3 L1280.5,45.3 L1280.5,51.3 L1273.5,57.3 L1267.5,57.3 L1267.5,51.3 Z" fill="#141108" stroke="#141108" stroke-width="2.2" stroke-linejoin="round"/>
<path d="M1274.5,51.3 L1280.5,51.3 L1273.5,57.3 L1267.5,57.3 Z" fill="#2e2818"/>
<rect x="1274.5" y="45.3" width="6" height="6" fill="#c8b078"/>
<rect x="1275.5" y="46.3" width="4" height="4" fill="#e2cc94"/>
<path d="M1297.5,45.3 L1303.5,45.3 L1303.5,51.3 L1296.5,57.3 L1290.5,57.3 L1290.5,51.3 Z" fill="#141108" stroke="#141108" stroke-width="2.2" stroke-linejoin="round"/>
<path d="M1297.5,51.3 L1303.5,51.3 L1296.5,57.3 L1290.5,57.3 Z" fill="#2e2818"/>
<rect x="1297.5" y="45.3" width="6" height="6" fill="#c8b078"/>
<rect x="1298.5" y="46.3" width="4" height="4" fill="#e2cc94"/>
<path d="M1320.5,45.3 L1326.5,45.3 L1326.5,51.3 L1319.5,57.3 L1313.5,57.3 L1313.5,51.3 Z" fill="#141108" stroke="#141108" stroke-width="2.2" stroke-linejoin="round"/>
<path d="M1320.5,51.3 L1326.5,51.3 L1319.5,57.3 L1313.5,57.3 Z" fill="#2e2818"/>
<rect x="1320.5" y="45.3" width="6" height="6" fill="#c8b078"/>
<rect x="1321.5" y="46.3" width="4" height="4" fill="#e2cc94"/>
<path d="M1343.5,45.3 L1349.5,45.3 L1349.5,51.3 L1342.5,57.3 L1336.5,57.3 L1336.5,51.3 Z" fill="#141108" stroke="#141108" stroke-width="2.2" stroke-linejoin="round"/>
<path d="M1343.5,51.3 L1349.5,51.3 L1342.5,57.3 L1336.5,57.3 Z" fill="#2e2818"/>
<rect x="1343.5" y="45.3" width="6" height="6" fill="#c8b078"/>
<rect x="1344.5" y="46.3" width="4" height="4" fill="#e2cc94"/>
<path d="M1366.5,45.3 L1372.5,45.3 L1372.5,51.3 L1365.5,57.3 L1359.5,57.3 L1359.5,51.3 Z" fill="#141108" stroke="#141108" stroke-width="2.2" stroke-linejoin="round"/>
<path d="M1366.5,51.3 L1372.5,51.3 L1365.5,57.3 L1359.5,57.3 Z" fill="#2e2818"/>
<rect x="1366.5" y="45.3" width="6" height="6" fill="#c8b078"/>
<rect x="1367.5" y="46.3" width="4" height="4" fill="#e2cc94"/>
<path d="M1389.5,45.3 L1395.5,45.3 L1395.5,51.3 L1388.5,57.3 L1382.5,57.3 L1382.5,51.3 Z" fill="#141108" stroke="#141108" stroke-width="2.2" stroke-linejoin="round"/>
<path d="M1389.5,51.3 L1395.5,51.3 L1388.5,57.3 L1382.5,57.3 Z" fill="#2e2818"/>
<rect x="1389.5" y="45.3" width="6" height="6" fill="#c8b078"/>
<rect x="1390.5" y="46.3" width="4" height="4" fill="#e2cc94"/>
<path d="M1412.5,45.3 L1418.5,45.3 L1418.5,51.3 L1411.5,57.3 L1405.5,57.3 L1405.5,51.3 Z" fill="#141108" stroke="#141108" stroke-width="2.2" stroke-linejoin="round"/>
<path d="M1412.5,51.3 L1418.5,51.3 L1411.5,57.3 L1405.5,57.3 Z" fill="#2e2818"/>
<rect x="1412.5" y="45.3" width="6" height="6" fill="#c8b078"/>
<rect x="1413.5" y="46.3" width="4" height="4" fill="#e2cc94"/>
<path d="M1435.5,45.3 L1441.5,45.3 L1441.5,51.3 L1434.5,57.3 L1428.5,57.3 L1428.5,51.3 Z" fill="#141108" stroke="#141108" stroke-width="2.2" stroke-linejoin="round"/>
<path d="M1435.5,51.3 L1441.5,51.3 L1434.5,57.3 L1428.5,57.3 Z" fill="#2e2818"/>
<rect x="1435.5" y="45.3" width="6" height="6" fill="#c8b078"/>
<rect x="1436.5" y="46.3" width="4" height="4" fill="#e2cc94"/>
<path d="M1458.5,45.3 L1464.5,45.3 L1464.5,51.3 L1457.5,57.3 L1451.5,57.3 L1451.5,51.3 Z" fill="#141108" stroke="#141108" stroke-width="2.2" stroke-linejoin="round"/>
<path d="M1458.5,51.3 L1464.5,51.3 L1457.5,57.3 L1451.5,57.3 Z" fill="#2e2818"/>
<rect x="1458.5" y="45.3" width="6" height="6" fill="#c8b078"/>
<rect x="1459.5" y="46.3" width="4" height="4" fill="#e2cc94"/>
<path d="M1481.5,45.3 L1487.5,45.3 L1487.5,51.3 L1480.5,57.3 L1474.5,57.3 L1474.5,51.3 Z" fill="#141108" stroke="#141108" stroke-width="2.2" stroke-linejoin="round"/>
<path d="M1481.5,51.3 L1487.5,51.3 L1480.5,57.3 L1474.5,57.3 Z" fill="#2e2818"/>
<rect x="1481.5" y="45.3" width="6" height="6" fill="#c8b078"/>
<rect x="1482.5" y="46.3" width="4" height="4" fill="#e2cc94"/>
<path d="M1504.5,45.3 L1510.5,45.3 L1510.5,51.3 L1503.5,57.3 L1497.5,57.3 L1497.5,51.3 Z" fill="#141108" stroke="#141108" stroke-width="2.2" stroke-linejoin="round"/>
<path d="M1504.5,51.3 L1510.5,51.3 L1503.5,57.3 L1497.5,57.3 Z" fill="#2e2818"/>
<rect x="1504.5" y="45.3" width="6" height="6" fill="#c8b078"/>
<rect x="1505.5" y="46.3" width="4" height="4" fill="#e2cc94"/>
<path d="M1527.5,45.3 L1533.5,45.3 L1533.5,51.3 L1526.5,57.3 L1520.5,57.3 L1520.5,51.3 Z" fill="#141108" stroke="#141108" stroke-width="2.2" stroke-linejoin="round"/>
<path d="M1527.5,51.3 L1533.5,51.3 L1526.5,57.3 L1520.5,57.3 Z" fill="#2e2818"/>
<rect x="1527.5" y="45.3" width="6" height="6" fill="#c8b078"/>
<rect x="1528.5" y="46.3" width="4" height="4" fill="#e2cc94"/>
<path d="M1286.8,180.0 L1292.8,180.0 L1292.8,186.0 L1285.8,192.0 L1279.8,192.0 L1279.8,186.0 Z" fill="#141108" stroke="#141108" stroke-width="2.2" stroke-linejoin="round"/>
<path d="M1286.8,186.0 L1292.8,186.0 L1285.8,192.0 L1279.8,192.0 Z" fill="#2e2818"/>
<rect x="1286.8" y="180.0" width="6" height="6" fill="#c8b078"/>
<rect x="1287.8" y="181.0" width="4" height="4" fill="#e2cc94"/>
<path d="M1310.1,180.0 L1316.1,180.0 L1316.1,186.0 L1309.1,192.0 L1303.1,192.0 L1303.1,186.0 Z" fill="#141108" stroke="#141108" stroke-width="2.2" stroke-linejoin="round"/>
<path d="M1310.1,186.0 L1316.1,186.0 L1309.1,192.0 L1303.1,192.0 Z" fill="#2e2818"/>
<rect x="1310.1" y="180.0" width="6" height="6" fill="#c8b078"/>
<rect x="1311.1" y="181.0" width="4" height="4" fill="#e2cc94"/>
<path d="M1333.3999999999999,180.0 L1339.3999999999999,180.0 L1339.3999999999999,186.0 L1332.3999999999999,192.0 L1326.3999999999999,192.0 L1326.3999999999999,186.0 Z" fill="#141108" stroke="#141108" stroke-width="2.2" stroke-linejoin="round"/>
<path d="M1333.3999999999999,186.0 L1339.3999999999999,186.0 L1332.3999999999999,192.0 L1326.3999999999999,192.0 Z" fill="#2e2818"/>
<rect x="1333.3999999999999" y="180.0" width="6" height="6" fill="#c8b078"/>
<rect x="1334.3999999999999" y="181.0" width="4" height="4" fill="#e2cc94"/>
<path d="M1356.7,180.0 L1362.7,180.0 L1362.7,186.0 L1355.7,192.0 L1349.7,192.0 L1349.7,186.0 Z" fill="#141108" stroke="#141108" stroke-width="2.2" stroke-linejoin="round"/>
<path d="M1356.7,186.0 L1362.7,186.0 L1355.7,192.0 L1349.7,192.0 Z" fill="#2e2818"/>
<rect x="1356.7" y="180.0" width="6" height="6" fill="#c8b078"/>
<rect x="1357.7" y="181.0" width="4" height="4" fill="#e2cc94"/>
<path d="M1380.0,180.0 L1386.0,180.0 L1386.0,186.0 L1379.0,192.0 L1373.0,192.0 L1373.0,186.0 Z" fill="#141108" stroke="#141108" stroke-width="2.2" stroke-linejoin="round"/>
<path d="M1380.0,186.0 L1386.0,186.0 L1379.0,192.0 L1373.0,192.0 Z" fill="#2e2818"/>
<rect x="1380.0" y="180.0" width="6" height="6" fill="#c8b078"/>
<rect x="1381.0" y="181.0" width="4" height="4" fill="#e2cc94"/>
<path d="M1403.3,180.0 L1409.3,180.0 L1409.3,186.0 L1402.3,192.0 L1396.3,192.0 L1396.3,186.0 Z" fill="#141108" stroke="#141108" stroke-width="2.2" stroke-linejoin="round"/>
<path d="M1403.3,186.0 L1409.3,186.0 L1402.3,192.0 L1396.3,192.0 Z" fill="#2e2818"/>
<rect x="1403.3" y="180.0" width="6" height="6" fill="#c8b078"/>
<rect x="1404.3" y="181.0" width="4" height="4" fill="#e2cc94"/>
<path d="M1426.6,180.0 L1432.6,180.0 L1432.6,186.0 L1425.6,192.0 L1419.6,192.0 L1419.6,186.0 Z" fill="#141108" stroke="#141108" stroke-width="2.2" stroke-linejoin="round"/>
<path d="M1426.6,186.0 L1432.6,186.0 L1425.6,192.0 L1419.6,192.0 Z" fill="#2e2818"/>
<rect x="1426.6" y="180.0" width="6" height="6" fill="#c8b078"/>
<rect x="1427.6" y="181.0" width="4" height="4" fill="#e2cc94"/>
<path d="M1449.8999999999999,180.0 L1455.8999999999999,180.0 L1455.8999999999999,186.0 L1448.8999999999999,192.0 L1442.8999999999999,192.0 L1442.8999999999999,186.0 Z" fill="#141108" stroke="#141108" stroke-width="2.2" stroke-linejoin="round"/>
<path d="M1449.8999999999999,186.0 L1455.8999999999999,186.0 L1448.8999999999999,192.0 L1442.8999999999999,192.0 Z" fill="#2e2818"/>
<rect x="1449.8999999999999" y="180.0" width="6" height="6" fill="#c8b078"/>
<rect x="1450.8999999999999" y="181.0" width="4" height="4" fill="#e2cc94"/>
<path d="M1473.2,180.0 L1479.2,180.0 L1479.2,186.0 L1472.2,192.0 L1466.2,192.0 L1466.2,186.0 Z" fill="#141108" stroke="#141108" stroke-width="2.2" stroke-linejoin="round"/>
<path d="M1473.2,186.0 L1479.2,186.0 L1472.2,192.0 L1466.2,192.0 Z" fill="#2e2818"/>
<rect x="1473.2" y="180.0" width="6" height="6" fill="#c8b078"/>
<rect x="1474.2" y="181.0" width="4" height="4" fill="#e2cc94"/>
<path d="M1496.5,180.0 L1502.5,180.0 L1502.5,186.0 L1495.5,192.0 L1489.5,192.0 L1489.5,186.0 Z" fill="#141108" stroke="#141108" stroke-width="2.2" stroke-linejoin="round"/>
<path d="M1496.5,186.0 L1502.5,186.0 L1495.5,192.0 L1489.5,192.0 Z" fill="#2e2818"/>
<rect x="1496.5" y="180.0" width="6" height="6" fill="#c8b078"/>
<rect x="1497.5" y="181.0" width="4" height="4" fill="#e2cc94"/>
<path d="M1519.8,180.0 L1525.8,180.0 L1525.8,186.0 L1518.8,192.0 L1512.8,192.0 L1512.8,186.0 Z" fill="#141108" stroke="#141108" stroke-width="2.2" stroke-linejoin="round"/>
<path d="M1519.8,186.0 L1525.8,186.0 L1518.8,192.0 L1512.8,192.0 Z" fill="#2e2818"/>
<rect x="1519.8" y="180.0" width="6" height="6" fill="#c8b078"/>
<rect x="1520.8" y="181.0" width="4" height="4" fill="#e2cc94"/>
<path d="M1543.1,180.0 L1549.1,180.0 L1549.1,186.0 L1542.1,192.0 L1536.1,192.0 L1536.1,186.0 Z" fill="#141108" stroke="#141108" stroke-width="2.2" stroke-linejoin="round"/>
<path d="M1543.1,186.0 L1549.1,186.0 L1542.1,192.0 L1536.1,192.0 Z" fill="#2e2818"/>
<rect x="1543.1" y="180.0" width="6" height="6" fill="#c8b078"/>
<rect x="1544.1" y="181.0" width="4" height="4" fill="#e2cc94"/>
<path d="M1393.8,72.3 L1441.9,115.4 L1399.6,162.7 L1350.4,117.7 Z" fill="#2f2f2f"/>
<circle cx="1289.8" cy="71.3" r="1.3" fill="#1a0a0c"/>
<circle cx="1352.1" cy="72.8" r="1.3" fill="#1a0a0c"/>
<circle cx="1372.8" cy="72.8" r="1.3" fill="#1a0a0c"/>
<circle cx="1389" cy="68.5" r="1.3" fill="#1a0a0c"/>
<circle cx="1413" cy="76.2" r="1.3" fill="#1a0a0c"/>
<circle cx="1327.5" cy="89.8" r="1.3" fill="#1a0a0c"/>
<circle cx="1359.2" cy="93.2" r="1.3" fill="#1a0a0c"/>
<circle cx="1351.3" cy="96.8" r="1.3" fill="#1a0a0c"/>
<circle cx="1342.2" cy="99.7" r="1.3" fill="#1a0a0c"/>
<circle cx="1340.8" cy="108.8" r="1.3" fill="#1a0a0c"/>
<circle cx="1331.7" cy="124.6" r="1.3" fill="#1a0a0c"/>
<circle cx="1340.8" cy="126" r="1.3" fill="#1a0a0c"/>
<circle cx="1349.3" cy="142.8" r="1.3" fill="#1a0a0c"/>
<circle cx="1362.6" cy="142.8" r="1.3" fill="#1a0a0c"/>
<circle cx="1328" cy="148.4" r="1.3" fill="#1a0a0c"/>
<circle cx="1377.6" cy="161.2" r="1.3" fill="#1a0a0c"/>
<circle cx="1386.7" cy="162" r="1.3" fill="#1a0a0c"/>
<circle cx="1410.2" cy="169.1" r="1.3" fill="#1a0a0c"/>
<circle cx="1415.9" cy="163.5" r="1.3" fill="#1a0a0c"/>
<circle cx="1282.7" cy="168.6" r="1.3" fill="#1a0a0c"/>
<circle cx="1292" cy="175.4" r="1.3" fill="#1a0a0c"/>
<circle cx="1437.2" cy="82.7" r="1.3" fill="#1a0a0c"/>
<circle cx="1489.4" cy="69.9" r="1.3" fill="#1a0a0c"/>
<circle cx="1525.4" cy="70.8" r="1.3" fill="#1a0a0c"/>
<circle cx="1436.4" cy="82.7" r="1.3" fill="#1a0a0c"/>
<circle cx="1442.7" cy="96.3" r="1.3" fill="#1a0a0c"/>
<circle cx="1462.5" cy="96.3" r="1.3" fill="#1a0a0c"/>
<circle cx="1483.8" cy="96.3" r="1.3" fill="#1a0a0c"/>
<circle cx="1444.1" cy="105.4" r="1.3" fill="#1a0a0c"/>
<circle cx="1441.3" cy="119.5" r="1.3" fill="#1a0a0c"/>
<circle cx="1515.8" cy="110.5" r="1.3" fill="#1a0a0c"/>
<circle cx="1447.8" cy="136.5" r="1.3" fill="#1a0a0c"/>
<circle cx="1434.7" cy="143.6" r="1.3" fill="#1a0a0c"/>
<circle cx="1544.7" cy="156.4" r="1.3" fill="#1a0a0c"/>
<circle cx="1537.6" cy="163.5" r="1.3" fill="#1a0a0c"/>
<circle cx="1455.4" cy="169.1" r="1.3" fill="#1a0a0c"/>
<circle cx="1442.7" cy="172.8" r="1.3" fill="#1a0a0c"/>
<circle cx="1480.9" cy="176.2" r="1.3" fill="#1a0a0c"/>
<circle cx="1566" cy="189.8" r="1.3" fill="#1a0a0c"/>
<rect x="1271" y="94.6" width="35" height="45.5" rx="2" fill="#3a2a2c"/>
<rect x="1272.8" y="94.6" width="32.6" height="44.8" rx="2.5" fill="url(#xtal)"/>
<rect x="1272.8" y="94.6" width="2.2" height="44.8" fill="#f0f0f0"/>
<rect x="1271.9" y="76.2" width="15.299999999999955" height="7.599999999999994" fill="#2a1010" opacity="0.55"/>
<rect x="1272.7" y="75.4" width="15.299999999999955" height="7.599999999999994" fill="#3a3a3a"/>
<rect x="1272.7" y="75.4" width="2.7539999999999916" height="7.599999999999994" fill="#e8e8e8"/><rect x="1285.246" y="75.4" width="2.7539999999999916" height="7.599999999999994" fill="#e8e8e8"/>
<rect x="1300.0" y="76.2" width="14.200000000000045" height="7.599999999999994" fill="#2a1010" opacity="0.55"/>
<rect x="1300.8" y="75.4" width="14.200000000000045" height="7.599999999999994" fill="#f4f4f4"/>
<rect x="1300.8" y="75.4" width="2.556000000000008" height="7.599999999999994" fill="#c8c8c8"/><rect x="1312.444" y="75.4" width="2.556000000000008" height="7.599999999999994" fill="#c8c8c8"/>
<rect x="1327.7" y="75.0" width="15.299999999999955" height="8.5" fill="#2a1010" opacity="0.55"/>
<rect x="1328.5" y="74.2" width="15.299999999999955" height="8.5" fill="#e2c49a"/>
<rect x="1328.5" y="74.2" width="2.7539999999999916" height="8.5" fill="#f0f0f0"/><rect x="1341.046" y="74.2" width="2.7539999999999916" height="8.5" fill="#f0f0f0"/>
<rect x="1305.2" y="94.3" width="9" height="14.5" fill="#2a1010" opacity="0.55"/>
<rect x="1306" y="93.5" width="9" height="14.5" fill="#e2c49a"/>
<rect x="1306" y="93.5" width="9" height="2.61" fill="#f0f0f0"/><rect x="1306" y="105.39" width="9" height="2.61" fill="#f0f0f0"/>
<rect x="1308.4" y="126.8" width="8.799999999999955" height="15.5" fill="#2a1010" opacity="0.55"/>
<rect x="1309.2" y="126" width="8.799999999999955" height="15.5" fill="#e2c49a"/>
<rect x="1309.2" y="126" width="8.799999999999955" height="2.79" fill="#f0f0f0"/><rect x="1309.2" y="138.71" width="8.799999999999955" height="2.79" fill="#f0f0f0"/>
<rect x="1277.7" y="153.8" width="17.299999999999955" height="7.800000000000011" fill="#2a1010" opacity="0.55"/>
<rect x="1278.5" y="153" width="17.299999999999955" height="7.800000000000011" fill="#3a3a3a"/>
<rect x="1278.5" y="153" width="3.113999999999992" height="7.800000000000011" fill="#e8e8e8"/><rect x="1292.686" y="153" width="3.113999999999992" height="7.800000000000011" fill="#e8e8e8"/>
<rect x="1306.5" y="154.60000000000002" width="15.400000000000091" height="7.699999999999989" fill="#2a1010" opacity="0.55"/>
<rect x="1307.3" y="153.8" width="15.400000000000091" height="7.699999999999989" fill="#f4f4f4"/>
<rect x="1307.3" y="153.8" width="2.7720000000000162" height="7.699999999999989" fill="#c8c8c8"/><rect x="1319.928" y="153.8" width="2.7720000000000162" height="7.699999999999989" fill="#c8c8c8"/>
<rect x="1337.2" y="153.8" width="16.200000000000045" height="7.800000000000011" fill="#2a1010" opacity="0.55"/>
<rect x="1338" y="153" width="16.200000000000045" height="7.800000000000011" fill="#e2c49a"/>
<rect x="1338" y="153" width="2.916000000000008" height="7.800000000000011" fill="#f0f0f0"/><rect x="1351.284" y="153" width="2.916000000000008" height="7.800000000000011" fill="#f0f0f0"/>
<rect x="1423.8" y="75.8" width="9.600000000000136" height="14.599999999999994" fill="#2a1010" opacity="0.55"/>
<rect x="1424.6" y="75" width="9.600000000000136" height="14.599999999999994" fill="#e2c49a"/>
<rect x="1424.6" y="75" width="9.600000000000136" height="2.627999999999999" fill="#f0f0f0"/><rect x="1424.6" y="86.972" width="9.600000000000136" height="2.627999999999999" fill="#f0f0f0"/>
<rect x="1435.2" y="145.4" width="9.799999999999955" height="15.400000000000006" fill="#2a1010" opacity="0.55"/>
<rect x="1436" y="144.6" width="9.799999999999955" height="15.400000000000006" fill="#e2c49a"/>
<rect x="1436" y="144.6" width="9.799999999999955" height="2.772000000000001" fill="#f0f0f0"/><rect x="1436" y="157.228" width="9.799999999999955" height="2.772000000000001" fill="#f0f0f0"/>
<rect x="1493.8" y="145.4" width="8.900000000000091" height="15.400000000000006" fill="#2a1010" opacity="0.55"/>
<rect x="1494.6" y="144.6" width="8.900000000000091" height="15.400000000000006" fill="#e2c49a"/>
<rect x="1494.6" y="144.6" width="8.900000000000091" height="2.772000000000001" fill="#f0f0f0"/><rect x="1494.6" y="157.228" width="8.900000000000091" height="2.772000000000001" fill="#f0f0f0"/>
<rect x="1486.2" y="78.8" width="8.799999999999955" height="13.5" fill="#2a1010" opacity="0.55"/>
<rect x="1487" y="78" width="8.799999999999955" height="13.5" fill="#f4f4f4"/>
<rect x="1487" y="78" width="8.799999999999955" height="2.4299999999999997" fill="#d0d0d0"/><rect x="1487" y="89.07" width="8.799999999999955" height="2.4299999999999997" fill="#d0d0d0"/>
<rect x="1498.8" y="77.8" width="9.600000000000136" height="14.5" fill="#2a1010" opacity="0.55"/>
<rect x="1499.6" y="77" width="9.600000000000136" height="14.5" fill="#3a3a3a"/>
<rect x="1499.6" y="77" width="9.600000000000136" height="2.61" fill="#e0e0e0"/><rect x="1499.6" y="88.89" width="9.600000000000136" height="2.61" fill="#e0e0e0"/>
<rect x="1511.5" y="77.8" width="9.700000000000045" height="14.5" fill="#2a1010" opacity="0.55"/>
<rect x="1512.3" y="77" width="9.700000000000045" height="14.5" fill="#3a3a3a"/>
<rect x="1512.3" y="77" width="9.700000000000045" height="2.61" fill="#e0e0e0"/><rect x="1512.3" y="88.89" width="9.700000000000045" height="2.61" fill="#e0e0e0"/>
<rect x="1506.5" y="145.0" width="9.700000000000045" height="15.800000000000011" fill="#2a1010" opacity="0.55"/>
<rect x="1507.3" y="144.2" width="9.700000000000045" height="15.800000000000011" fill="#3a3a3a"/>
<rect x="1507.3" y="144.2" width="9.700000000000045" height="2.844000000000002" fill="#e0e0e0"/><rect x="1507.3" y="157.156" width="9.700000000000045" height="2.844000000000002" fill="#e0e0e0"/>
<rect x="1520.0" y="145.0" width="9.600000000000136" height="15.800000000000011" fill="#2a1010" opacity="0.55"/>
<rect x="1520.8" y="144.2" width="9.600000000000136" height="15.800000000000011" fill="#3a3a3a"/>
<rect x="1520.8" y="144.2" width="9.600000000000136" height="2.844000000000002" fill="#e0e0e0"/><rect x="1520.8" y="157.156" width="9.600000000000136" height="2.844000000000002" fill="#e0e0e0"/>
<rect x="1446" y="73.5" width="34" height="19" fill="#0e0e0e"/><rect x="1448" y="72.3" width="32" height="18" fill="#1c1c1c"/><rect x="1476" y="72.3" width="4.5" height="18" fill="#5a5a5a"/>
<rect x="1453.5" y="142" width="34" height="19" fill="#0e0e0e"/><rect x="1455.4" y="140.8" width="32.6" height="18" fill="#1c1c1c"/><rect x="1483.5" y="140.8" width="4.5" height="18" fill="#5a5a5a"/>
<rect x="1453.5" y="108.8" width="29.5" height="16.6" fill="#262626"/>
<rect x="1457" y="125.4" width="4" height="4.5" fill="#c8c8c8"/>
<rect x="1464" y="125.4" width="4" height="4.5" fill="#c8c8c8"/>
<rect x="1471" y="125.4" width="4" height="4.5" fill="#c8c8c8"/>
<rect x="1458" y="104.5" width="4" height="4.3" fill="#c8c8c8"/><rect x="1472" y="104.5" width="4" height="4.3" fill="#c8c8c8"/>
<path d="M1483,101 L1504.6,101 L1504.6,133.8 L1483,133.8 Z" fill="#b8b8b8"/><rect x="1485.5" y="106" width="17" height="23" fill="#181818"/>
<path d="M1490,101 L1494,104 L1498,101 Z" fill="#c55264"/>
<path d="M1526,93 Q1527,81 1533,80.5 L1540,80.5 L1541,146.5 L1537,148.5 L1532,148 Q1528,146 1528,140 L1527.5,120 L1525.5,117 Z" fill="#0e0e0e"/>
<rect x="1528.5" y="113" width="1.8" height="1.8" fill="#8a8a8a"/>
<rect x="1529.1" y="118" width="1.8" height="1.8" fill="#8a8a8a"/>
<rect x="1529.7" y="123" width="1.8" height="1.8" fill="#8a8a8a"/>
<rect x="1530.3" y="128" width="1.8" height="1.8" fill="#8a8a8a"/>
<path d="M1535.9,80 L1578.7,79.1 L1581,82 L1589.6,140 L1587.8,146.4 L1538.7,146.4 Z" fill="url(#usb)"/>
<path d="M1538.5,141.5 L1588.5,141 L1587.8,146.4 L1538.7,146.4 Z" fill="#8c8c8c"/>
<path d="M1580.5,82.7 L1583,81.5 L1591.5,139 L1589.6,141 Z" fill="#b4b4b4"/>
<path d="M1581,82 L1580.5,82.7 L1589.6,141 L1590,139.5 Z" fill="#5a5a5a"/>
<path d="M1537.8,90 L1548.7,90 L1548.7,100 L1538,100 Z" fill="#1a1a1a"/><path d="M1539.5,92 L1547.5,92 L1547,98.5 L1540,98.5 Z" fill="#a0a0a0"/>
<path d="M1542.3,122.8 L1552.3,122.8 L1552.3,132.8 L1542.5,132.8 Z" fill="#1a1a1a"/><path d="M1543.5,125 L1551,125 L1550.5,131 L1544,131 Z" fill="#9a9a9a"/>
<rect x="1546.9" y="108.2" width="2.7" height="6.4" fill="#1a1a1a"/>
<path d="M1558.7,87.3 L1575.1,87.3 L1575.6,94.6 L1559.2,94.6 Z" fill="#7a7a7a"/><path d="M1571,86 L1575.1,87.3 L1575.6,94.6 L1572,95.5 Z" fill="#5e5e5e"/>
<path d="M1564.1,128.2 L1580.5,128.2 L1581,137.3 L1564.6,137.3 Z" fill="#7a7a7a"/><path d="M1576.5,127 L1580.5,128.2 L1581,137.3 L1577.5,138 Z" fill="#5e5e5e"/>
<rect x="1555" y="146.4" width="8.2" height="5.5" fill="#8a8a8a"/>
<path d="M1500.4,243.5 L1500.4,230.3 L1512.5,230.3 M1524.7,230.3 L1548,229.8 M1524.7,230.3 L1524.7,252 L1505.4,252 L1508.9,299.1 L1554,298.8 L1549,229.8" fill="none" stroke="#e8e8e0" stroke-width="1.3"/>
<rect x="1503.6000000000001" y="232.70000000000002" width="17.2" height="17.2" fill="#2b4224"/>
<rect x="1504.6000000000001" y="233.70000000000002" width="15.2" height="15.2" fill="#d6bd0c"/>
<ellipse cx="1512.2" cy="241.3" rx="4.6" ry="4.3" fill="#1e1a10"/>
<ellipse cx="1536.5" cy="242.5" rx="8.6" ry="8.2" fill="#2b4224"/>
<ellipse cx="1536.5" cy="242.5" rx="7.6" ry="7.199999999999999" fill="#d6bd0c"/>
<ellipse cx="1536.5" cy="242.5" rx="4.8" ry="4.5" fill="#1e1a10"/>
<ellipse cx="1516.4" cy="264.4" rx="8.6" ry="8.2" fill="#2b4224"/>
<ellipse cx="1516.4" cy="264.4" rx="7.6" ry="7.199999999999999" fill="#d6bd0c"/>
<ellipse cx="1516.4" cy="264.4" rx="4.8" ry="4.5" fill="#1e1a10"/>
<ellipse cx="1537.7" cy="265.6" rx="8.6" ry="8.2" fill="#2b4224"/>
<ellipse cx="1537.7" cy="265.6" rx="7.6" ry="7.199999999999999" fill="#d6bd0c"/>
<ellipse cx="1537.7" cy="265.6" rx="4.8" ry="4.5" fill="#1e1a10"/>
<ellipse cx="1518.3" cy="287.4" rx="8.6" ry="8.2" fill="#2b4224"/>
<ellipse cx="1518.3" cy="287.4" rx="7.6" ry="7.199999999999999" fill="#d6bd0c"/>
<ellipse cx="1518.3" cy="287.4" rx="4.8" ry="4.5" fill="#1e1a10"/>
<ellipse cx="1540.2" cy="288.7" rx="8.6" ry="8.2" fill="#2b4224"/>
<ellipse cx="1540.2" cy="288.7" rx="7.6" ry="7.199999999999999" fill="#d6bd0c"/>
<ellipse cx="1540.2" cy="288.7" rx="4.8" ry="4.5" fill="#1e1a10"/>
<path d="M1552.5,229.2 L1566,219.6 L1591.9,219.6 L1600.6,286 L1598,292 L1580.4,298.8 L1558.3,298.5 Z" fill="#0a0a0a"/>
<path d="M1536.5,242.5 L1542.5,238.9" stroke="#2a2216" stroke-width="6" stroke-linecap="round"/>
<rect x="1540.5" y="236.4" width="16.5" height="5.400000000000006" fill="#b8985e"/>
<rect x="1540.5" y="236.4" width="16.5" height="3.3480000000000034" fill="#f0d49c"/>
<path d="M1537.7,265.6 L1543.7,261.5" stroke="#2a2216" stroke-width="6" stroke-linecap="round"/>
<rect x="1541.7" y="259" width="18.299999999999955" height="7" fill="#b8985e"/>
<rect x="1541.7" y="259" width="18.299999999999955" height="4.34" fill="#f0d49c"/>
<path d="M1540.2,288.7 L1546.2,284.5" stroke="#2a2216" stroke-width="6" stroke-linecap="round"/>
<rect x="1544.2" y="282" width="18.799999999999955" height="6" fill="#b8985e"/>
<rect x="1544.2" y="282" width="18.799999999999955" height="3.7199999999999998" fill="#f0d49c"/>
<path d="M1512.2,241.3 L1525.2,232" stroke="#2a2216" stroke-width="6" stroke-linecap="round"/>
<path d="M1516.4,264.4 L1529.4,255.2" stroke="#2a2216" stroke-width="6" stroke-linecap="round"/>
<path d="M1518.3,287.4 L1531.3,278.3" stroke="#2a2216" stroke-width="6" stroke-linecap="round"/>
<rect x="1524.2" y="229" width="43.799999999999955" height="7" fill="#b8985e"/>
<rect x="1524.2" y="229" width="43.799999999999955" height="4.34" fill="#f0d49c"/>
<rect x="1528.4" y="252.2" width="41.59999999999991" height="6.800000000000011" fill="#b8985e"/>
<rect x="1528.4" y="252.2" width="41.59999999999991" height="4.216000000000007" fill="#f0d49c"/>
<rect x="1530.3" y="275.3" width="41.700000000000045" height="7.300000000000011" fill="#b8985e"/>
<rect x="1530.3" y="275.3" width="41.700000000000045" height="4.526000000000007" fill="#f0d49c"/>
<path d="M1569.2,220.5 L1591.5,220.5 L1600,284.5 L1577.5,287.5 Z" fill="#383838"/>
<path d="M1572,240 L1594.2,239.5 L1594.6,243 L1572.4,243.5 Z M1575,262.8 L1597.2,262 L1597.6,265.5 L1575.4,266.3 Z" fill="#161616"/>
<rect x="1594.0" y="229" width="48.200000000000045" height="7" fill="#b8985e"/>
<rect x="1594.0" y="229" width="48.200000000000045" height="4.34" fill="#f0d49c"/>
<rect x="1594.0" y="236.4" width="37.200000000000045" height="5.400000000000006" fill="#b8985e"/>
<rect x="1594.0" y="236.4" width="37.200000000000045" height="3.3480000000000034" fill="#f0d49c"/>
<rect x="1595.8" y="252.2" width="50.0" height="6.800000000000011" fill="#b8985e"/>
<rect x="1595.8" y="252.2" width="50.0" height="4.216000000000007" fill="#f0d49c"/>
<rect x="1595.8" y="259" width="37.90000000000009" height="7" fill="#b8985e"/>
<rect x="1595.8" y="259" width="37.90000000000009" height="4.34" fill="#f0d49c"/>
<rect x="1597.6" y="275.3" width="51.40000000000009" height="7.300000000000011" fill="#b8985e"/>
<rect x="1597.6" y="275.3" width="51.40000000000009" height="4.526000000000007" fill="#f0d49c"/>
<rect x="1597.6" y="282" width="39.200000000000045" height="6" fill="#b8985e"/>
<rect x="1597.6" y="282" width="39.200000000000045" height="3.7199999999999998" fill="#f0d49c"/>
<path d="M1512.2,336.2 L1512.2,325.2 L1523.7,325.2 M1516,347.4 L1535,347.4 M1534.6,324.6 L1558.3,324.6 L1564.4,419 L1522,420 L1516,347.4 M1534.6,324.6 L1535,347.4" fill="none" stroke="#e8e8e0" stroke-width="1.3"/>
<g transform="translate(1570.5 327.5) rotate(-90) scale(0.88 1)"><text x="0" y="0" font-size="13.73" textLength="19.20" lengthAdjust="spacing">ON</text></g>
<rect x="1515.2" y="327.2" width="18.4" height="18.4" fill="#2b4224"/>
<rect x="1516.2" y="328.2" width="16.4" height="16.4" fill="#f4f4f4"/>
<ellipse cx="1547" cy="336" rx="8.6" ry="8.2" fill="#2b4224"/>
<ellipse cx="1547" cy="336" rx="7.6" ry="7.199999999999999" fill="#d6bd0c"/>
<ellipse cx="1547" cy="336" rx="4.8" ry="4.5" fill="#1e1a10"/>
<ellipse cx="1526.8" cy="359.5" rx="8.6" ry="8.2" fill="#2b4224"/>
<ellipse cx="1526.8" cy="359.5" rx="7.6" ry="7.199999999999999" fill="#d6bd0c"/>
<ellipse cx="1526.8" cy="359.5" rx="4.8" ry="4.5" fill="#1e1a10"/>
<ellipse cx="1549.9" cy="360.7" rx="8.6" ry="8.2" fill="#2b4224"/>
<ellipse cx="1549.9" cy="360.7" rx="7.6" ry="7.199999999999999" fill="#d6bd0c"/>
<ellipse cx="1549.9" cy="360.7" rx="4.8" ry="4.5" fill="#1e1a10"/>
<ellipse cx="1529.2" cy="383.3" rx="8.6" ry="8.2" fill="#2b4224"/>
<ellipse cx="1529.2" cy="383.3" rx="7.6" ry="7.199999999999999" fill="#d6bd0c"/>
<ellipse cx="1529.2" cy="383.3" rx="4.8" ry="4.5" fill="#1e1a10"/>
<ellipse cx="1552.3" cy="385" rx="8.6" ry="8.2" fill="#2b4224"/>
<ellipse cx="1552.3" cy="385" rx="7.6" ry="7.199999999999999" fill="#d6bd0c"/>
<ellipse cx="1552.3" cy="385" rx="4.8" ry="4.5" fill="#1e1a10"/>
<ellipse cx="1531.7" cy="406.9" rx="8.6" ry="8.2" fill="#2b4224"/>
<ellipse cx="1531.7" cy="406.9" rx="7.6" ry="7.199999999999999" fill="#d6bd0c"/>
<ellipse cx="1531.7" cy="406.9" rx="4.8" ry="4.5" fill="#1e1a10"/>
<ellipse cx="1555.5" cy="408.8" rx="8.6" ry="8.2" fill="#2b4224"/>
<ellipse cx="1555.5" cy="408.8" rx="7.6" ry="7.199999999999999" fill="#d6bd0c"/>
<ellipse cx="1555.5" cy="408.8" rx="4.8" ry="4.5" fill="#1e1a10"/>
<path d="M1561,321.9 L1581.4,315 L1605.2,315 L1616.7,408 L1612,413.5 L1596,416.6 L1569,416 Z" fill="#0a0a0a"/>
<path d="M1549.9,360.7 L1555.9,357.9" stroke="#2a2216" stroke-width="6" stroke-linecap="round"/>
<rect x="1552.9" y="355.4" width="17.899999999999864" height="5.600000000000023" fill="#b8985e"/>
<rect x="1552.9" y="355.4" width="17.899999999999864" height="3.472000000000014" fill="#f0d49c"/>
<path d="M1552.3,385 L1558.3,381.5" stroke="#2a2216" stroke-width="6" stroke-linecap="round"/>
<rect x="1555.3" y="379" width="18.299999999999955" height="5" fill="#b8985e"/>
<rect x="1555.3" y="379" width="18.299999999999955" height="3.1" fill="#f0d49c"/>
<path d="M1555.5,408.8 L1561.5,405.5" stroke="#2a2216" stroke-width="6" stroke-linecap="round"/>
<rect x="1558.5" y="403" width="17.90000000000009" height="5" fill="#b8985e"/>
<rect x="1558.5" y="403" width="17.90000000000009" height="3.1" fill="#f0d49c"/>
<path d="M1526.8,359.5 L1539.8,351.6" stroke="#2a2216" stroke-width="6" stroke-linecap="round"/>
<path d="M1529.2,383.3 L1542.2,375.1" stroke="#2a2216" stroke-width="6" stroke-linecap="round"/>
<path d="M1531.7,406.9 L1544.7,399.7" stroke="#2a2216" stroke-width="6" stroke-linecap="round"/>
<path d="M1547,336 L1552,333" stroke="#2a2216" stroke-width="5.5" stroke-linecap="round"/>
<rect x="1550" y="329.6" width="18" height="6.399999999999977" fill="#b8985e"/>
<rect x="1550" y="329.6" width="18" height="3.9679999999999858" fill="#f0d49c"/>
<rect x="1538.8" y="348.6" width="42.200000000000045" height="6.7999999999999545" fill="#b8985e"/>
<rect x="1538.8" y="348.6" width="42.200000000000045" height="4.215999999999972" fill="#f0d49c"/>
<rect x="1541.2" y="372.1" width="42.799999999999955" height="6.7999999999999545" fill="#b8985e"/>
<rect x="1541.2" y="372.1" width="42.799999999999955" height="4.215999999999972" fill="#f0d49c"/>
<rect x="1543.7" y="396.7" width="43.299999999999955" height="6.5" fill="#b8985e"/>
<rect x="1543.7" y="396.7" width="43.299999999999955" height="4.03" fill="#f0d49c"/>
<path d="M1582,316 L1604.5,316 L1615.5,405 L1592,408 Z" fill="#383838"/>
<path d="M1585,338 L1607,337.5 L1607.4,341 L1585.4,341.5 Z M1588,361.5 L1610,361 L1610.4,364.5 L1588.4,365 Z M1590.5,385 L1612.8,384.5 L1613.2,388 L1591,388.5 Z" fill="#161616"/>
<rect x="1575.5" y="323" width="3.5" height="6" fill="#a0a0a0"/>
<rect x="1606.0" y="329.6" width="37.40000000000009" height="6.399999999999977" fill="#b8985e"/>
<rect x="1606.0" y="329.6" width="37.40000000000009" height="3.9679999999999858" fill="#f0d49c"/>
<rect x="1608.5" y="348.6" width="50.200000000000045" height="6.7999999999999545" fill="#b8985e"/>
<rect x="1608.5" y="348.6" width="50.200000000000045" height="4.215999999999972" fill="#f0d49c"/>
<rect x="1608.5" y="355.4" width="38.5" height="5.600000000000023" fill="#b8985e"/>
<rect x="1608.5" y="355.4" width="38.5" height="3.472000000000014" fill="#f0d49c"/>
<rect x="1611.0" y="372.1" width="50.59999999999991" height="6.7999999999999545" fill="#b8985e"/>
<rect x="1611.0" y="372.1" width="50.59999999999991" height="4.215999999999972" fill="#f0d49c"/>
<rect x="1611.0" y="379" width="39.0" height="5" fill="#b8985e"/>
<rect x="1611.0" y="379" width="39.0" height="3.1" fill="#f0d49c"/>
<rect x="1613.5" y="396.7" width="51.700000000000045" height="6.5" fill="#b8985e"/>
<rect x="1613.5" y="396.7" width="51.700000000000045" height="4.03" fill="#f0d49c"/>
<rect x="1613.5" y="403" width="39.5" height="5" fill="#b8985e"/>
<rect x="1613.5" y="403" width="39.5" height="3.1" fill="#f0d49c"/>
<g transform="translate(1515.9 226.2) rotate(0) scale(0.88 1)"><text x="0" y="0" font-size="14.77" textLength="15.11" lengthAdjust="spacing">J3</text></g>
<g transform="translate(1526.8 321.4) rotate(0) scale(0.88 1)"><text x="0" y="0" font-size="14.77" textLength="16.59" lengthAdjust="spacing">J6</text></g>
<g transform="translate(1488.0 295.1) rotate(-90) scale(1.0 1)"><text x="0" y="0" font-size="13.31" textLength="56.60" lengthAdjust="spacing">Solenoid</text></g>
<g transform="translate(1503.0 289) rotate(-90) scale(1.0 1)"><text x="0" y="0" font-size="13.31" textLength="43.50" lengthAdjust="spacing">Header</text></g>
<g transform="translate(1511.5 415.4) rotate(-90) scale(1.0 1)"><text x="0" y="0" font-size="13.31" textLength="99.60" lengthAdjust="spacing">AT Lock Lights</text></g>
</svg></body></html>
